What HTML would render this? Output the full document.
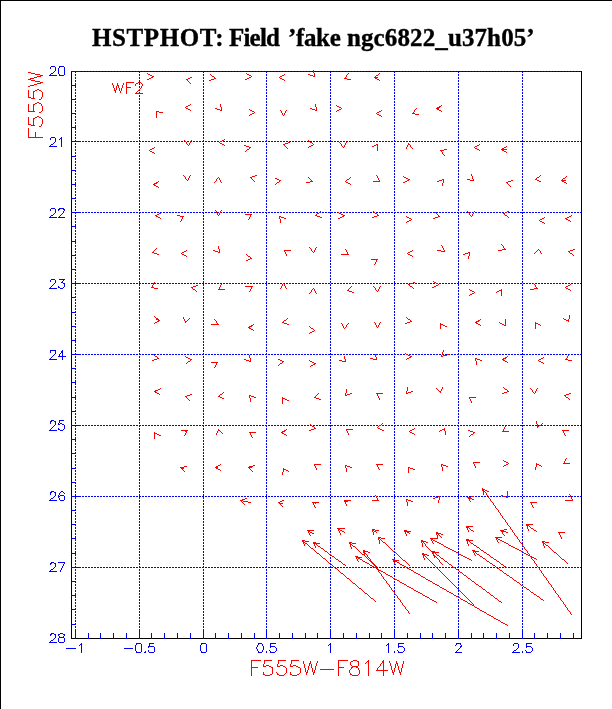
<!DOCTYPE html>
<html><head><meta charset="utf-8"><title>HSTPHOT</title>
<style>
html,body{margin:0;padding:0;background:#fff;}
body{width:612px;height:709px;position:relative;overflow:hidden;font-family:"Liberation Serif",serif;}
.t{position:absolute;top:24px;font-family:"Liberation Serif",serif;font-weight:bold;font-size:25px;line-height:28px;color:#000;white-space:nowrap;-webkit-text-stroke:0.35px #000;will-change:transform;}
svg{position:absolute;left:0;top:0;display:block;}
</style></head><body>
<svg width="612" height="709" viewBox="0 0 612 709" shape-rendering="crispEdges">
<path d="M0 0.5h612M0 1.5h1M0 2.5h1M0 3.5h1M0 4.5h1M0 5.5h1M0 6.5h1M0 7.5h1M0 8.5h1M0 9.5h1M0 10.5h1M0 11.5h1M0 12.5h1M0 13.5h1M0 14.5h1M0 15.5h1M0 16.5h1M0 17.5h1M0 18.5h1M0 19.5h1M0 20.5h1M0 21.5h1M0 22.5h1M0 23.5h1M0 24.5h1M0 25.5h1M0 26.5h1M0 27.5h1M0 28.5h1M0 29.5h1M0 30.5h1M0 31.5h1M0 32.5h1M0 33.5h1M0 34.5h1M0 35.5h1M0 36.5h1M0 37.5h1M0 38.5h1M0 39.5h1M0 40.5h1M0 41.5h1M0 42.5h1M0 43.5h1M0 44.5h1M0 45.5h1M0 46.5h1M0 47.5h1M0 48.5h1M0 49.5h1M0 50.5h1M0 51.5h1M0 52.5h1M0 53.5h1M0 54.5h1M0 55.5h1M0 56.5h1M0 57.5h1M0 58.5h1M0 59.5h1M0 60.5h1M0 61.5h1M0 62.5h1M0 63.5h1M0 64.5h1M0 65.5h1M0 66.5h1M0 67.5h1M0 68.5h1M0 69.5h1M0 70.5h1M0 71.5h1M81 71.5h1M84 71.5h1M87 71.5h1M90 71.5h1M93 71.5h1M96 71.5h1M99 71.5h1M102 71.5h1M105 71.5h1M108 71.5h1M111 71.5h1M114 71.5h1M117 71.5h1M120 71.5h1M123 71.5h1M126 71.5h1M129 71.5h1M132 71.5h1M135 71.5h1M138 71.5h1M141 71.5h1M144 71.5h1M147 71.5h1M150 71.5h1M153 71.5h1M156 71.5h1M159 71.5h1M162 71.5h1M165 71.5h1M168 71.5h1M171 71.5h1M174 71.5h1M177 71.5h1M180 71.5h1M183 71.5h1M186 71.5h1M189 71.5h1M192 71.5h1M195 71.5h1M198 71.5h1M201 71.5h1M204 71.5h1M207 71.5h1M210 71.5h1M213 71.5h1M216 71.5h1M219 71.5h1M222 71.5h1M225 71.5h1M228 71.5h1M231 71.5h1M234 71.5h1M237 71.5h1M240 71.5h1M243 71.5h1M246 71.5h1M249 71.5h1M252 71.5h1M255 71.5h1M258 71.5h1M261 71.5h1M264 71.5h1M267 71.5h1M270 71.5h1M273 71.5h1M276 71.5h1M279 71.5h1M282 71.5h1M285 71.5h1M288 71.5h1M291 71.5h1M294 71.5h1M297 71.5h1M300 71.5h1M303 71.5h1M306 71.5h1M309 71.5h1M312 71.5h1M315 71.5h1M318 71.5h1M321 71.5h1M324 71.5h1M327 71.5h1M330 71.5h1M333 71.5h1M336 71.5h1M339 71.5h1M342 71.5h1M345 71.5h1M348 71.5h1M351 71.5h1M354 71.5h1M357 71.5h1M360 71.5h1M363 71.5h1M366 71.5h1M369 71.5h1M372 71.5h1M375 71.5h1M378 71.5h1M381 71.5h1M384 71.5h1M387 71.5h1M390 71.5h1M393 71.5h1M396 71.5h1M399 71.5h1M402 71.5h1M405 71.5h1M408 71.5h1M411 71.5h1M414 71.5h1M417 71.5h1M420 71.5h1M423 71.5h1M426 71.5h1M429 71.5h1M432 71.5h1M435 71.5h1M438 71.5h1M441 71.5h1M444 71.5h1M447 71.5h1M450 71.5h1M453 71.5h1M456 71.5h1M459 71.5h1M462 71.5h1M465 71.5h1M468 71.5h1M471 71.5h1M474 71.5h1M477 71.5h1M480 71.5h1M483 71.5h1M486 71.5h1M489 71.5h1M492 71.5h1M495 71.5h1M498 71.5h1M501 71.5h1M504 71.5h1M507 71.5h1M510 71.5h1M513 71.5h1M516 71.5h1M519 71.5h1M522 71.5h1M525 71.5h1M528 71.5h1M531 71.5h1M534 71.5h1M537 71.5h1M540 71.5h1M543 71.5h1M546 71.5h1M549 71.5h1M552 71.5h1M555 71.5h1M558 71.5h1M561 71.5h1M564 71.5h1M567 71.5h1M570 71.5h1M573 71.5h1M576 71.5h1M579 71.5h1M581 71.5h1M0 72.5h1M71 72.5h1M581 72.5h1M0 73.5h1M71 73.5h1M581 73.5h1M0 74.5h1M71 74.5h1M581 74.5h1M0 75.5h1M71 75.5h1M581 75.5h1M0 76.5h1M71 76.5h1M581 76.5h1M0 77.5h1M71 77.5h1M581 77.5h1M0 78.5h1M71 78.5h1M581 78.5h1M0 79.5h1M71 79.5h1M581 79.5h1M0 80.5h1M71 80.5h1M581 80.5h1M0 81.5h1M71 81.5h1M581 81.5h1M0 82.5h1M71 82.5h1M581 82.5h1M0 83.5h1M71 83.5h1M581 83.5h1M0 84.5h1M71 84.5h1M581 84.5h1M0 85.5h1M581 85.5h1M0 86.5h1M71 86.5h1M581 86.5h1M0 87.5h1M71 87.5h1M581 87.5h1M0 88.5h1M71 88.5h1M581 88.5h1M0 89.5h1M71 89.5h1M581 89.5h1M0 90.5h1M71 90.5h1M581 90.5h1M0 91.5h1M71 91.5h1M581 91.5h1M0 92.5h1M71 92.5h1M581 92.5h1M0 93.5h1M71 93.5h1M581 93.5h1M0 94.5h1M71 94.5h1M581 94.5h1M0 95.5h1M71 95.5h1M581 95.5h1M0 96.5h1M71 96.5h1M581 96.5h1M0 97.5h1M71 97.5h1M581 97.5h1M0 98.5h1M71 98.5h1M581 98.5h1M0 99.5h1M581 99.5h1M0 100.5h1M71 100.5h1M581 100.5h1M0 101.5h1M71 101.5h1M581 101.5h1M0 102.5h1M71 102.5h1M581 102.5h1M0 103.5h1M71 103.5h1M581 103.5h1M0 104.5h1M71 104.5h1M581 104.5h1M0 105.5h1M71 105.5h1M581 105.5h1M0 106.5h1M71 106.5h1M581 106.5h1M0 107.5h1M71 107.5h1M581 107.5h1M0 108.5h1M71 108.5h1M581 108.5h1M0 109.5h1M71 109.5h1M581 109.5h1M0 110.5h1M71 110.5h1M581 110.5h1M0 111.5h1M71 111.5h1M581 111.5h1M0 112.5h1M71 112.5h1M581 112.5h1M0 113.5h1M581 113.5h1M0 114.5h1M71 114.5h1M581 114.5h1M0 115.5h1M71 115.5h1M581 115.5h1M0 116.5h1M71 116.5h1M581 116.5h1M0 117.5h1M71 117.5h1M581 117.5h1M0 118.5h1M71 118.5h1M581 118.5h1M0 119.5h1M71 119.5h1M581 119.5h1M0 120.5h1M71 120.5h1M581 120.5h1M0 121.5h1M71 121.5h1M581 121.5h1M0 122.5h1M71 122.5h1M581 122.5h1M0 123.5h1M71 123.5h1M581 123.5h1M0 124.5h1M71 124.5h1M581 124.5h1M0 125.5h1M71 125.5h1M581 125.5h1M0 126.5h1M71 126.5h1M581 126.5h1M0 127.5h1M581 127.5h1M0 128.5h1M71 128.5h1M581 128.5h1M0 129.5h1M71 129.5h1M581 129.5h1M0 130.5h1M71 130.5h1M581 130.5h1M0 131.5h1M71 131.5h1M581 131.5h1M0 132.5h1M71 132.5h1M581 132.5h1M0 133.5h1M71 133.5h1M581 133.5h1M0 134.5h1M71 134.5h1M581 134.5h1M0 135.5h1M71 135.5h1M581 135.5h1M0 136.5h1M71 136.5h1M581 136.5h1M0 137.5h1M71 137.5h1M581 137.5h1M0 138.5h1M71 138.5h1M581 138.5h1M0 139.5h1M71 139.5h1M581 139.5h1M0 140.5h1M71 140.5h1M581 140.5h1M0 141.5h1M581 141.5h1M0 142.5h1M71 142.5h1M581 142.5h1M0 143.5h1M71 143.5h1M581 143.5h1M0 144.5h1M71 144.5h1M581 144.5h1M0 145.5h1M71 145.5h1M581 145.5h1M0 146.5h1M71 146.5h1M581 146.5h1M0 147.5h1M71 147.5h1M581 147.5h1M0 148.5h1M71 148.5h1M581 148.5h1M0 149.5h1M71 149.5h1M581 149.5h1M0 150.5h1M71 150.5h1M581 150.5h1M0 151.5h1M71 151.5h1M581 151.5h1M0 152.5h1M71 152.5h1M581 152.5h1M0 153.5h1M71 153.5h1M581 153.5h1M0 154.5h1M71 154.5h1M581 154.5h1M0 155.5h1M71 155.5h1M581 155.5h1M0 156.5h1M581 156.5h1M0 157.5h1M71 157.5h1M581 157.5h1M0 158.5h1M71 158.5h1M581 158.5h1M0 159.5h1M71 159.5h1M581 159.5h1M0 160.5h1M71 160.5h1M581 160.5h1M0 161.5h1M71 161.5h1M581 161.5h1M0 162.5h1M71 162.5h1M581 162.5h1M0 163.5h1M71 163.5h1M581 163.5h1M0 164.5h1M71 164.5h1M581 164.5h1M0 165.5h1M71 165.5h1M581 165.5h1M0 166.5h1M71 166.5h1M581 166.5h1M0 167.5h1M71 167.5h1M581 167.5h1M0 168.5h1M71 168.5h1M581 168.5h1M0 169.5h1M71 169.5h1M581 169.5h1M0 170.5h1M581 170.5h1M0 171.5h1M71 171.5h1M581 171.5h1M0 172.5h1M71 172.5h1M581 172.5h1M0 173.5h1M71 173.5h1M581 173.5h1M0 174.5h1M71 174.5h1M581 174.5h1M0 175.5h1M71 175.5h1M581 175.5h1M0 176.5h1M71 176.5h1M581 176.5h1M0 177.5h1M71 177.5h1M581 177.5h1M0 178.5h1M71 178.5h1M581 178.5h1M0 179.5h1M71 179.5h1M581 179.5h1M0 180.5h1M71 180.5h1M581 180.5h1M0 181.5h1M71 181.5h1M581 181.5h1M0 182.5h1M71 182.5h1M581 182.5h1M0 183.5h1M71 183.5h1M581 183.5h1M0 184.5h1M581 184.5h1M0 185.5h1M71 185.5h1M581 185.5h1M0 186.5h1M71 186.5h1M581 186.5h1M0 187.5h1M71 187.5h1M581 187.5h1M0 188.5h1M71 188.5h1M581 188.5h1M0 189.5h1M71 189.5h1M581 189.5h1M0 190.5h1M71 190.5h1M581 190.5h1M0 191.5h1M71 191.5h1M581 191.5h1M0 192.5h1M71 192.5h1M581 192.5h1M0 193.5h1M71 193.5h1M581 193.5h1M0 194.5h1M71 194.5h1M581 194.5h1M0 195.5h1M71 195.5h1M581 195.5h1M0 196.5h1M71 196.5h1M581 196.5h1M0 197.5h1M71 197.5h1M581 197.5h1M0 198.5h1M581 198.5h1M0 199.5h1M71 199.5h1M581 199.5h1M0 200.5h1M71 200.5h1M581 200.5h1M0 201.5h1M71 201.5h1M581 201.5h1M0 202.5h1M71 202.5h1M581 202.5h1M0 203.5h1M71 203.5h1M581 203.5h1M0 204.5h1M71 204.5h1M581 204.5h1M0 205.5h1M71 205.5h1M581 205.5h1M0 206.5h1M71 206.5h1M581 206.5h1M0 207.5h1M71 207.5h1M581 207.5h1M0 208.5h1M71 208.5h1M581 208.5h1M0 209.5h1M71 209.5h1M581 209.5h1M0 210.5h1M71 210.5h1M581 210.5h1M0 211.5h1M71 211.5h1M581 211.5h1M0 212.5h1M581 212.5h1M0 213.5h1M71 213.5h1M581 213.5h1M0 214.5h1M71 214.5h1M581 214.5h1M0 215.5h1M71 215.5h1M581 215.5h1M0 216.5h1M71 216.5h1M581 216.5h1M0 217.5h1M71 217.5h1M581 217.5h1M0 218.5h1M71 218.5h1M581 218.5h1M0 219.5h1M71 219.5h1M581 219.5h1M0 220.5h1M71 220.5h1M581 220.5h1M0 221.5h1M71 221.5h1M581 221.5h1M0 222.5h1M71 222.5h1M581 222.5h1M0 223.5h1M71 223.5h1M581 223.5h1M0 224.5h1M71 224.5h1M581 224.5h1M0 225.5h1M71 225.5h1M581 225.5h1M0 226.5h1M581 226.5h1M0 227.5h1M71 227.5h1M581 227.5h1M0 228.5h1M71 228.5h1M581 228.5h1M0 229.5h1M71 229.5h1M581 229.5h1M0 230.5h1M71 230.5h1M581 230.5h1M0 231.5h1M71 231.5h1M581 231.5h1M0 232.5h1M71 232.5h1M581 232.5h1M0 233.5h1M71 233.5h1M581 233.5h1M0 234.5h1M71 234.5h1M581 234.5h1M0 235.5h1M71 235.5h1M581 235.5h1M0 236.5h1M71 236.5h1M581 236.5h1M0 237.5h1M71 237.5h1M581 237.5h1M0 238.5h1M71 238.5h1M581 238.5h1M0 239.5h1M71 239.5h1M581 239.5h1M0 240.5h1M71 240.5h1M581 240.5h1M0 241.5h1M581 241.5h1M0 242.5h1M71 242.5h1M581 242.5h1M0 243.5h1M71 243.5h1M581 243.5h1M0 244.5h1M71 244.5h1M581 244.5h1M0 245.5h1M71 245.5h1M581 245.5h1M0 246.5h1M71 246.5h1M581 246.5h1M0 247.5h1M71 247.5h1M581 247.5h1M0 248.5h1M71 248.5h1M581 248.5h1M0 249.5h1M71 249.5h1M581 249.5h1M0 250.5h1M71 250.5h1M581 250.5h1M0 251.5h1M71 251.5h1M581 251.5h1M0 252.5h1M71 252.5h1M581 252.5h1M0 253.5h1M71 253.5h1M581 253.5h1M0 254.5h1M71 254.5h1M581 254.5h1M0 255.5h1M581 255.5h1M0 256.5h1M71 256.5h1M581 256.5h1M0 257.5h1M71 257.5h1M581 257.5h1M0 258.5h1M71 258.5h1M581 258.5h1M0 259.5h1M71 259.5h1M581 259.5h1M0 260.5h1M71 260.5h1M581 260.5h1M0 261.5h1M71 261.5h1M581 261.5h1M0 262.5h1M71 262.5h1M581 262.5h1M0 263.5h1M71 263.5h1M581 263.5h1M0 264.5h1M71 264.5h1M581 264.5h1M0 265.5h1M71 265.5h1M581 265.5h1M0 266.5h1M71 266.5h1M581 266.5h1M0 267.5h1M71 267.5h1M581 267.5h1M0 268.5h1M71 268.5h1M581 268.5h1M0 269.5h1M581 269.5h1M0 270.5h1M71 270.5h1M581 270.5h1M0 271.5h1M71 271.5h1M581 271.5h1M0 272.5h1M71 272.5h1M581 272.5h1M0 273.5h1M71 273.5h1M581 273.5h1M0 274.5h1M71 274.5h1M581 274.5h1M0 275.5h1M71 275.5h1M581 275.5h1M0 276.5h1M71 276.5h1M581 276.5h1M0 277.5h1M71 277.5h1M581 277.5h1M0 278.5h1M71 278.5h1M581 278.5h1M0 279.5h1M71 279.5h1M581 279.5h1M0 280.5h1M71 280.5h1M581 280.5h1M0 281.5h1M71 281.5h1M581 281.5h1M0 282.5h1M71 282.5h1M581 282.5h1M0 283.5h1M581 283.5h1M0 284.5h1M71 284.5h1M581 284.5h1M0 285.5h1M71 285.5h1M581 285.5h1M0 286.5h1M71 286.5h1M581 286.5h1M0 287.5h1M71 287.5h1M581 287.5h1M0 288.5h1M71 288.5h1M581 288.5h1M0 289.5h1M71 289.5h1M581 289.5h1M0 290.5h1M71 290.5h1M581 290.5h1M0 291.5h1M71 291.5h1M581 291.5h1M0 292.5h1M71 292.5h1M581 292.5h1M0 293.5h1M71 293.5h1M581 293.5h1M0 294.5h1M71 294.5h1M581 294.5h1M0 295.5h1M71 295.5h1M581 295.5h1M0 296.5h1M71 296.5h1M581 296.5h1M0 297.5h1M581 297.5h1M0 298.5h1M71 298.5h1M581 298.5h1M0 299.5h1M71 299.5h1M581 299.5h1M0 300.5h1M71 300.5h1M581 300.5h1M0 301.5h1M71 301.5h1M581 301.5h1M0 302.5h1M71 302.5h1M581 302.5h1M0 303.5h1M71 303.5h1M581 303.5h1M0 304.5h1M71 304.5h1M581 304.5h1M0 305.5h1M71 305.5h1M581 305.5h1M0 306.5h1M71 306.5h1M581 306.5h1M0 307.5h1M71 307.5h1M581 307.5h1M0 308.5h1M71 308.5h1M581 308.5h1M0 309.5h1M71 309.5h1M581 309.5h1M0 310.5h1M71 310.5h1M581 310.5h1M0 311.5h1M71 311.5h1M581 311.5h1M0 312.5h1M581 312.5h1M0 313.5h1M71 313.5h1M581 313.5h1M0 314.5h1M71 314.5h1M581 314.5h1M0 315.5h1M71 315.5h1M581 315.5h1M0 316.5h1M71 316.5h1M581 316.5h1M0 317.5h1M71 317.5h1M581 317.5h1M0 318.5h1M71 318.5h1M581 318.5h1M0 319.5h1M71 319.5h1M581 319.5h1M0 320.5h1M71 320.5h1M581 320.5h1M0 321.5h1M71 321.5h1M581 321.5h1M0 322.5h1M71 322.5h1M581 322.5h1M0 323.5h1M71 323.5h1M581 323.5h1M0 324.5h1M71 324.5h1M581 324.5h1M0 325.5h1M71 325.5h1M581 325.5h1M0 326.5h1M581 326.5h1M0 327.5h1M71 327.5h1M581 327.5h1M0 328.5h1M71 328.5h1M581 328.5h1M0 329.5h1M71 329.5h1M581 329.5h1M0 330.5h1M71 330.5h1M581 330.5h1M0 331.5h1M71 331.5h1M581 331.5h1M0 332.5h1M71 332.5h1M581 332.5h1M0 333.5h1M71 333.5h1M581 333.5h1M0 334.5h1M71 334.5h1M581 334.5h1M0 335.5h1M71 335.5h1M581 335.5h1M0 336.5h1M71 336.5h1M581 336.5h1M0 337.5h1M71 337.5h1M581 337.5h1M0 338.5h1M71 338.5h1M581 338.5h1M0 339.5h1M71 339.5h1M581 339.5h1M0 340.5h1M581 340.5h1M0 341.5h1M71 341.5h1M581 341.5h1M0 342.5h1M71 342.5h1M581 342.5h1M0 343.5h1M71 343.5h1M581 343.5h1M0 344.5h1M71 344.5h1M581 344.5h1M0 345.5h1M71 345.5h1M581 345.5h1M0 346.5h1M71 346.5h1M581 346.5h1M0 347.5h1M71 347.5h1M581 347.5h1M0 348.5h1M71 348.5h1M581 348.5h1M0 349.5h1M71 349.5h1M581 349.5h1M0 350.5h1M71 350.5h1M581 350.5h1M0 351.5h1M71 351.5h1M581 351.5h1M0 352.5h1M71 352.5h1M581 352.5h1M0 353.5h1M71 353.5h1M581 353.5h1M0 354.5h1M581 354.5h1M0 355.5h1M71 355.5h1M581 355.5h1M0 356.5h1M71 356.5h1M581 356.5h1M0 357.5h1M71 357.5h1M581 357.5h1M0 358.5h1M71 358.5h1M581 358.5h1M0 359.5h1M71 359.5h1M581 359.5h1M0 360.5h1M71 360.5h1M581 360.5h1M0 361.5h1M71 361.5h1M581 361.5h1M0 362.5h1M71 362.5h1M581 362.5h1M0 363.5h1M71 363.5h1M581 363.5h1M0 364.5h1M71 364.5h1M581 364.5h1M0 365.5h1M71 365.5h1M581 365.5h1M0 366.5h1M71 366.5h1M581 366.5h1M0 367.5h1M71 367.5h1M581 367.5h1M0 368.5h1M581 368.5h1M0 369.5h1M71 369.5h1M581 369.5h1M0 370.5h1M71 370.5h1M581 370.5h1M0 371.5h1M71 371.5h1M581 371.5h1M0 372.5h1M71 372.5h1M581 372.5h1M0 373.5h1M71 373.5h1M581 373.5h1M0 374.5h1M71 374.5h1M581 374.5h1M0 375.5h1M71 375.5h1M581 375.5h1M0 376.5h1M71 376.5h1M581 376.5h1M0 377.5h1M71 377.5h1M581 377.5h1M0 378.5h1M71 378.5h1M581 378.5h1M0 379.5h1M71 379.5h1M581 379.5h1M0 380.5h1M71 380.5h1M581 380.5h1M0 381.5h1M71 381.5h1M581 381.5h1M0 382.5h1M581 382.5h1M0 383.5h1M71 383.5h1M581 383.5h1M0 384.5h1M71 384.5h1M581 384.5h1M0 385.5h1M71 385.5h1M581 385.5h1M0 386.5h1M71 386.5h1M581 386.5h1M0 387.5h1M71 387.5h1M581 387.5h1M0 388.5h1M71 388.5h1M581 388.5h1M0 389.5h1M71 389.5h1M581 389.5h1M0 390.5h1M71 390.5h1M581 390.5h1M0 391.5h1M71 391.5h1M581 391.5h1M0 392.5h1M71 392.5h1M581 392.5h1M0 393.5h1M71 393.5h1M581 393.5h1M0 394.5h1M71 394.5h1M581 394.5h1M0 395.5h1M71 395.5h1M581 395.5h1M0 396.5h1M71 396.5h1M581 396.5h1M0 397.5h1M581 397.5h1M0 398.5h1M71 398.5h1M581 398.5h1M0 399.5h1M71 399.5h1M581 399.5h1M0 400.5h1M71 400.5h1M581 400.5h1M0 401.5h1M71 401.5h1M581 401.5h1M0 402.5h1M71 402.5h1M581 402.5h1M0 403.5h1M71 403.5h1M581 403.5h1M0 404.5h1M71 404.5h1M581 404.5h1M0 405.5h1M71 405.5h1M581 405.5h1M0 406.5h1M71 406.5h1M581 406.5h1M0 407.5h1M71 407.5h1M581 407.5h1M0 408.5h1M71 408.5h1M581 408.5h1M0 409.5h1M71 409.5h1M581 409.5h1M0 410.5h1M71 410.5h1M581 410.5h1M0 411.5h1M581 411.5h1M0 412.5h1M71 412.5h1M581 412.5h1M0 413.5h1M71 413.5h1M581 413.5h1M0 414.5h1M71 414.5h1M581 414.5h1M0 415.5h1M71 415.5h1M581 415.5h1M0 416.5h1M71 416.5h1M581 416.5h1M0 417.5h1M71 417.5h1M581 417.5h1M0 418.5h1M71 418.5h1M581 418.5h1M0 419.5h1M71 419.5h1M581 419.5h1M0 420.5h1M71 420.5h1M581 420.5h1M0 421.5h1M71 421.5h1M581 421.5h1M0 422.5h1M71 422.5h1M581 422.5h1M0 423.5h1M71 423.5h1M581 423.5h1M0 424.5h1M71 424.5h1M581 424.5h1M0 425.5h1M581 425.5h1M0 426.5h1M71 426.5h1M581 426.5h1M0 427.5h1M71 427.5h1M581 427.5h1M0 428.5h1M71 428.5h1M581 428.5h1M0 429.5h1M71 429.5h1M581 429.5h1M0 430.5h1M71 430.5h1M581 430.5h1M0 431.5h1M71 431.5h1M581 431.5h1M0 432.5h1M71 432.5h1M581 432.5h1M0 433.5h1M71 433.5h1M581 433.5h1M0 434.5h1M71 434.5h1M581 434.5h1M0 435.5h1M71 435.5h1M581 435.5h1M0 436.5h1M71 436.5h1M581 436.5h1M0 437.5h1M71 437.5h1M581 437.5h1M0 438.5h1M71 438.5h1M581 438.5h1M0 439.5h1M581 439.5h1M0 440.5h1M71 440.5h1M581 440.5h1M0 441.5h1M71 441.5h1M581 441.5h1M0 442.5h1M71 442.5h1M581 442.5h1M0 443.5h1M71 443.5h1M581 443.5h1M0 444.5h1M71 444.5h1M581 444.5h1M0 445.5h1M71 445.5h1M581 445.5h1M0 446.5h1M71 446.5h1M581 446.5h1M0 447.5h1M71 447.5h1M581 447.5h1M0 448.5h1M71 448.5h1M581 448.5h1M0 449.5h1M71 449.5h1M581 449.5h1M0 450.5h1M71 450.5h1M581 450.5h1M0 451.5h1M71 451.5h1M581 451.5h1M0 452.5h1M71 452.5h1M581 452.5h1M0 453.5h1M581 453.5h1M0 454.5h1M71 454.5h1M581 454.5h1M0 455.5h1M71 455.5h1M581 455.5h1M0 456.5h1M71 456.5h1M581 456.5h1M0 457.5h1M71 457.5h1M581 457.5h1M0 458.5h1M71 458.5h1M581 458.5h1M0 459.5h1M71 459.5h1M581 459.5h1M0 460.5h1M71 460.5h1M581 460.5h1M0 461.5h1M71 461.5h1M581 461.5h1M0 462.5h1M71 462.5h1M581 462.5h1M0 463.5h1M71 463.5h1M581 463.5h1M0 464.5h1M71 464.5h1M581 464.5h1M0 465.5h1M71 465.5h1M581 465.5h1M0 466.5h1M71 466.5h1M581 466.5h1M0 467.5h1M71 467.5h1M581 467.5h1M0 468.5h1M581 468.5h1M0 469.5h1M71 469.5h1M581 469.5h1M0 470.5h1M71 470.5h1M581 470.5h1M0 471.5h1M71 471.5h1M581 471.5h1M0 472.5h1M71 472.5h1M581 472.5h1M0 473.5h1M71 473.5h1M581 473.5h1M0 474.5h1M71 474.5h1M581 474.5h1M0 475.5h1M71 475.5h1M581 475.5h1M0 476.5h1M71 476.5h1M581 476.5h1M0 477.5h1M71 477.5h1M581 477.5h1M0 478.5h1M71 478.5h1M581 478.5h1M0 479.5h1M71 479.5h1M581 479.5h1M0 480.5h1M71 480.5h1M581 480.5h1M0 481.5h1M71 481.5h1M581 481.5h1M0 482.5h1M581 482.5h1M0 483.5h1M71 483.5h1M581 483.5h1M0 484.5h1M71 484.5h1M581 484.5h1M0 485.5h1M71 485.5h1M581 485.5h1M0 486.5h1M71 486.5h1M581 486.5h1M0 487.5h1M71 487.5h1M581 487.5h1M0 488.5h1M71 488.5h1M581 488.5h1M0 489.5h1M71 489.5h1M581 489.5h1M0 490.5h1M71 490.5h1M581 490.5h1M0 491.5h1M71 491.5h1M581 491.5h1M0 492.5h1M71 492.5h1M581 492.5h1M0 493.5h1M71 493.5h1M581 493.5h1M0 494.5h1M71 494.5h1M581 494.5h1M0 495.5h1M71 495.5h1M581 495.5h1M0 496.5h1M581 496.5h1M0 497.5h1M71 497.5h1M581 497.5h1M0 498.5h1M71 498.5h1M581 498.5h1M0 499.5h1M71 499.5h1M581 499.5h1M0 500.5h1M71 500.5h1M581 500.5h1M0 501.5h1M71 501.5h1M581 501.5h1M0 502.5h1M71 502.5h1M581 502.5h1M0 503.5h1M71 503.5h1M581 503.5h1M0 504.5h1M71 504.5h1M581 504.5h1M0 505.5h1M71 505.5h1M581 505.5h1M0 506.5h1M71 506.5h1M581 506.5h1M0 507.5h1M71 507.5h1M581 507.5h1M0 508.5h1M71 508.5h1M581 508.5h1M0 509.5h1M71 509.5h1M581 509.5h1M0 510.5h1M581 510.5h1M0 511.5h1M71 511.5h1M581 511.5h1M0 512.5h1M71 512.5h1M581 512.5h1M0 513.5h1M71 513.5h1M581 513.5h1M0 514.5h1M71 514.5h1M581 514.5h1M0 515.5h1M71 515.5h1M581 515.5h1M0 516.5h1M71 516.5h1M581 516.5h1M0 517.5h1M71 517.5h1M581 517.5h1M0 518.5h1M71 518.5h1M581 518.5h1M0 519.5h1M71 519.5h1M581 519.5h1M0 520.5h1M71 520.5h1M581 520.5h1M0 521.5h1M71 521.5h1M581 521.5h1M0 522.5h1M71 522.5h1M581 522.5h1M0 523.5h1M71 523.5h1M581 523.5h1M0 524.5h1M581 524.5h1M0 525.5h1M71 525.5h1M581 525.5h1M0 526.5h1M71 526.5h1M581 526.5h1M0 527.5h1M71 527.5h1M581 527.5h1M0 528.5h1M71 528.5h1M581 528.5h1M0 529.5h1M71 529.5h1M581 529.5h1M0 530.5h1M71 530.5h1M581 530.5h1M0 531.5h1M71 531.5h1M581 531.5h1M0 532.5h1M71 532.5h1M581 532.5h1M0 533.5h1M71 533.5h1M581 533.5h1M0 534.5h1M71 534.5h1M581 534.5h1M0 535.5h1M71 535.5h1M581 535.5h1M0 536.5h1M71 536.5h1M581 536.5h1M0 537.5h1M71 537.5h1M581 537.5h1M0 538.5h1M581 538.5h1M0 539.5h1M71 539.5h1M581 539.5h1M0 540.5h1M71 540.5h1M581 540.5h1M0 541.5h1M71 541.5h1M581 541.5h1M0 542.5h1M71 542.5h1M581 542.5h1M0 543.5h1M71 543.5h1M581 543.5h1M0 544.5h1M71 544.5h1M581 544.5h1M0 545.5h1M71 545.5h1M581 545.5h1M0 546.5h1M71 546.5h1M581 546.5h1M0 547.5h1M71 547.5h1M581 547.5h1M0 548.5h1M71 548.5h1M581 548.5h1M0 549.5h1M71 549.5h1M581 549.5h1M0 550.5h1M71 550.5h1M581 550.5h1M0 551.5h1M71 551.5h1M581 551.5h1M0 552.5h1M71 552.5h1M581 552.5h1M0 553.5h1M581 553.5h1M0 554.5h1M71 554.5h1M581 554.5h1M0 555.5h1M71 555.5h1M581 555.5h1M0 556.5h1M71 556.5h1M581 556.5h1M0 557.5h1M71 557.5h1M581 557.5h1M0 558.5h1M71 558.5h1M581 558.5h1M0 559.5h1M71 559.5h1M581 559.5h1M0 560.5h1M71 560.5h1M581 560.5h1M0 561.5h1M71 561.5h1M581 561.5h1M0 562.5h1M71 562.5h1M581 562.5h1M0 563.5h1M71 563.5h1M581 563.5h1M0 564.5h1M71 564.5h1M581 564.5h1M0 565.5h1M71 565.5h1M581 565.5h1M0 566.5h1M71 566.5h1M581 566.5h1M0 567.5h1M581 567.5h1M0 568.5h1M71 568.5h1M581 568.5h1M0 569.5h1M71 569.5h1M581 569.5h1M0 570.5h1M71 570.5h1M581 570.5h1M0 571.5h1M71 571.5h1M581 571.5h1M0 572.5h1M71 572.5h1M581 572.5h1M0 573.5h1M71 573.5h1M581 573.5h1M0 574.5h1M71 574.5h1M581 574.5h1M0 575.5h1M71 575.5h1M581 575.5h1M0 576.5h1M71 576.5h1M581 576.5h1M0 577.5h1M71 577.5h1M581 577.5h1M0 578.5h1M71 578.5h1M581 578.5h1M0 579.5h1M71 579.5h1M581 579.5h1M0 580.5h1M71 580.5h1M581 580.5h1M0 581.5h1M581 581.5h1M0 582.5h1M71 582.5h1M581 582.5h1M0 583.5h1M71 583.5h1M581 583.5h1M0 584.5h1M71 584.5h1M581 584.5h1M0 585.5h1M71 585.5h1M581 585.5h1M0 586.5h1M71 586.5h1M581 586.5h1M0 587.5h1M71 587.5h1M581 587.5h1M0 588.5h1M71 588.5h1M581 588.5h1M0 589.5h1M71 589.5h1M581 589.5h1M0 590.5h1M71 590.5h1M581 590.5h1M0 591.5h1M71 591.5h1M581 591.5h1M0 592.5h1M71 592.5h1M581 592.5h1M0 593.5h1M71 593.5h1M581 593.5h1M0 594.5h1M71 594.5h1M581 594.5h1M0 595.5h1M581 595.5h1M0 596.5h1M71 596.5h1M581 596.5h1M0 597.5h1M71 597.5h1M581 597.5h1M0 598.5h1M71 598.5h1M581 598.5h1M0 599.5h1M71 599.5h1M581 599.5h1M0 600.5h1M71 600.5h1M581 600.5h1M0 601.5h1M71 601.5h1M581 601.5h1M0 602.5h1M71 602.5h1M581 602.5h1M0 603.5h1M71 603.5h1M581 603.5h1M0 604.5h1M71 604.5h1M581 604.5h1M0 605.5h1M71 605.5h1M581 605.5h1M0 606.5h1M71 606.5h1M581 606.5h1M0 607.5h1M71 607.5h1M581 607.5h1M0 608.5h1M71 608.5h1M581 608.5h1M0 609.5h1M581 609.5h1M0 610.5h1M71 610.5h1M581 610.5h1M0 611.5h1M71 611.5h1M581 611.5h1M0 612.5h1M71 612.5h1M581 612.5h1M0 613.5h1M71 613.5h1M581 613.5h1M0 614.5h1M71 614.5h1M581 614.5h1M0 615.5h1M71 615.5h1M581 615.5h1M0 616.5h1M71 616.5h1M581 616.5h1M0 617.5h1M71 617.5h1M581 617.5h1M0 618.5h1M71 618.5h1M581 618.5h1M0 619.5h1M71 619.5h1M581 619.5h1M0 620.5h1M71 620.5h1M581 620.5h1M0 621.5h1M71 621.5h1M581 621.5h1M0 622.5h1M71 622.5h1M581 622.5h1M0 623.5h1M71 623.5h1M581 623.5h1M0 624.5h1M581 624.5h1M0 625.5h1M71 625.5h1M581 625.5h1M0 626.5h1M71 626.5h1M581 626.5h1M0 627.5h1M71 627.5h1M581 627.5h1M0 628.5h1M71 628.5h1M581 628.5h1M0 629.5h1M71 629.5h1M581 629.5h1M0 630.5h1M71 630.5h1M581 630.5h1M0 631.5h1M71 631.5h1M581 631.5h1M0 632.5h1M71 632.5h1M581 632.5h1M0 633.5h1M71 633.5h1M581 633.5h1M0 634.5h1M71 634.5h1M581 634.5h1M0 635.5h1M71 635.5h1M581 635.5h1M0 636.5h1M71 636.5h1M581 636.5h1M0 637.5h1M71 637.5h1M581 637.5h1M0 638.5h1M71 638.5h4M76 638.5h12M89 638.5h11M101 638.5h12M114 638.5h12M127 638.5h12M140 638.5h11M152 638.5h12M165 638.5h12M178 638.5h12M191 638.5h12M204 638.5h11M216 638.5h12M229 638.5h12M242 638.5h12M255 638.5h11M267 638.5h12M280 638.5h12M293 638.5h12M306 638.5h11M318 638.5h12M331 638.5h12M344 638.5h12M357 638.5h12M370 638.5h11M382 638.5h12M395 638.5h12M408 638.5h12M421 638.5h11M433 638.5h12M446 638.5h12M459 638.5h12M472 638.5h11M484 638.5h12M497 638.5h12M510 638.5h12M523 638.5h11M535 638.5h12M548 638.5h12M561 638.5h12M574 638.5h8M0 639.5h1M0 640.5h1M0 641.5h1M0 642.5h1M0 643.5h1M0 644.5h1M0 645.5h1M0 646.5h1M0 647.5h1M0 648.5h1M0 649.5h1M0 650.5h1M0 651.5h1M0 652.5h1M0 653.5h1M0 654.5h1M0 655.5h1M0 656.5h1M0 657.5h1M0 658.5h1M0 659.5h1M0 660.5h1M0 661.5h1M0 662.5h1M0 663.5h1M0 664.5h1M0 665.5h1M0 666.5h1M0 667.5h1M0 668.5h1M0 669.5h1M0 670.5h1M0 671.5h1M0 672.5h1M0 673.5h1M0 674.5h1M0 675.5h1M0 676.5h1M0 677.5h1M0 678.5h1M0 679.5h1M0 680.5h1M0 681.5h1M0 682.5h1M0 683.5h1M0 684.5h1M0 685.5h1M0 686.5h1M0 687.5h1M0 688.5h1M0 689.5h1M0 690.5h1M0 691.5h1M0 692.5h1M0 693.5h1M0 694.5h1M0 695.5h1M0 696.5h1M0 697.5h1M0 698.5h1M0 699.5h1M0 700.5h1M0 701.5h1M0 702.5h1M0 703.5h1M0 704.5h1M0 705.5h1M0 706.5h1M0 707.5h1M0 708.5h1" stroke="#000000" stroke-width="1" fill="none"/>
<path d="M51 66.5h4M59 66.5h5M50 67.5h1M55 67.5h1M59 67.5h1M64 67.5h1M50 68.5h1M55 68.5h1M58 68.5h1M64 68.5h1M55 69.5h1M58 69.5h1M64 69.5h1M55 70.5h1M58 70.5h1M64 70.5h1M54 71.5h1M58 71.5h1M64 71.5h1M71 71.5h10M82 71.5h2M85 71.5h2M88 71.5h2M91 71.5h2M94 71.5h2M97 71.5h2M100 71.5h2M103 71.5h2M106 71.5h2M109 71.5h2M112 71.5h2M115 71.5h2M118 71.5h2M121 71.5h2M124 71.5h2M127 71.5h2M130 71.5h2M133 71.5h2M136 71.5h2M139 71.5h2M142 71.5h2M145 71.5h2M148 71.5h2M151 71.5h2M154 71.5h2M157 71.5h2M160 71.5h2M163 71.5h2M166 71.5h2M169 71.5h2M172 71.5h2M175 71.5h2M178 71.5h2M181 71.5h2M184 71.5h2M187 71.5h2M190 71.5h2M193 71.5h2M196 71.5h2M199 71.5h2M202 71.5h2M205 71.5h2M208 71.5h2M211 71.5h2M214 71.5h2M217 71.5h2M220 71.5h2M223 71.5h2M226 71.5h2M229 71.5h2M232 71.5h2M235 71.5h2M238 71.5h2M241 71.5h2M244 71.5h2M247 71.5h2M250 71.5h2M253 71.5h2M256 71.5h2M259 71.5h2M262 71.5h2M265 71.5h2M268 71.5h2M271 71.5h2M274 71.5h2M277 71.5h2M280 71.5h2M283 71.5h2M286 71.5h2M289 71.5h2M292 71.5h2M295 71.5h2M298 71.5h2M301 71.5h2M304 71.5h2M307 71.5h2M310 71.5h2M314 71.5h1M316 71.5h2M319 71.5h2M322 71.5h2M325 71.5h2M328 71.5h2M331 71.5h2M334 71.5h2M337 71.5h2M340 71.5h2M343 71.5h2M346 71.5h2M349 71.5h2M352 71.5h2M355 71.5h2M358 71.5h2M361 71.5h2M364 71.5h2M367 71.5h2M370 71.5h2M373 71.5h2M376 71.5h2M379 71.5h2M382 71.5h2M385 71.5h2M388 71.5h2M391 71.5h2M394 71.5h2M397 71.5h2M400 71.5h2M403 71.5h2M406 71.5h2M409 71.5h2M412 71.5h2M415 71.5h2M418 71.5h2M421 71.5h2M424 71.5h2M427 71.5h2M430 71.5h2M433 71.5h2M436 71.5h2M439 71.5h2M442 71.5h2M445 71.5h2M448 71.5h2M451 71.5h2M454 71.5h2M457 71.5h2M460 71.5h2M463 71.5h2M466 71.5h2M469 71.5h2M472 71.5h2M475 71.5h2M478 71.5h2M481 71.5h2M484 71.5h2M487 71.5h2M490 71.5h2M493 71.5h2M496 71.5h2M499 71.5h2M502 71.5h2M505 71.5h2M508 71.5h2M511 71.5h2M514 71.5h2M517 71.5h2M520 71.5h2M523 71.5h2M526 71.5h2M529 71.5h2M532 71.5h2M535 71.5h2M538 71.5h2M541 71.5h2M544 71.5h2M547 71.5h2M550 71.5h2M553 71.5h2M556 71.5h2M559 71.5h2M562 71.5h2M565 71.5h2M568 71.5h2M571 71.5h2M574 71.5h2M577 71.5h2M580 71.5h1M53 72.5h1M58 72.5h1M64 72.5h1M75 72.5h1M139 72.5h1M203 72.5h1M266 72.5h1M330 72.5h1M394 72.5h1M458 72.5h1M522 72.5h1M51 73.5h2M58 73.5h1M64 73.5h1M50 74.5h1M59 74.5h1M64 74.5h1M75 74.5h1M139 74.5h1M203 74.5h1M266 74.5h1M330 74.5h1M394 74.5h1M458 74.5h1M522 74.5h1M49 75.5h8M59 75.5h5M75 75.5h1M139 75.5h1M203 75.5h1M266 75.5h1M330 75.5h1M394 75.5h1M458 75.5h1M522 75.5h1M75 77.5h1M139 77.5h1M203 77.5h1M266 77.5h1M330 77.5h1M394 77.5h1M458 77.5h1M522 77.5h1M75 78.5h1M139 78.5h1M203 78.5h1M266 78.5h1M330 78.5h1M394 78.5h1M458 78.5h1M522 78.5h1M75 80.5h1M139 80.5h1M203 80.5h1M266 80.5h1M330 80.5h1M394 80.5h1M458 80.5h1M522 80.5h1M75 81.5h1M139 81.5h1M203 81.5h1M266 81.5h1M330 81.5h1M394 81.5h1M458 81.5h1M522 81.5h1M75 83.5h1M139 83.5h1M203 83.5h1M266 83.5h1M330 83.5h1M394 83.5h1M458 83.5h1M522 83.5h1M75 84.5h1M139 84.5h1M203 84.5h1M266 84.5h1M330 84.5h1M394 84.5h1M458 84.5h1M522 84.5h1M71 85.5h5M75 86.5h1M139 86.5h1M203 86.5h1M266 86.5h1M330 86.5h1M394 86.5h1M458 86.5h1M522 86.5h1M75 87.5h1M139 87.5h1M203 87.5h1M266 87.5h1M330 87.5h1M394 87.5h1M458 87.5h1M522 87.5h1M75 89.5h1M203 89.5h1M266 89.5h1M330 89.5h1M394 89.5h1M458 89.5h1M522 89.5h1M75 90.5h1M139 90.5h1M203 90.5h1M266 90.5h1M330 90.5h1M394 90.5h1M458 90.5h1M522 90.5h1M75 92.5h1M139 92.5h1M203 92.5h1M266 92.5h1M330 92.5h1M394 92.5h1M458 92.5h1M522 92.5h1M75 93.5h1M203 93.5h1M266 93.5h1M330 93.5h1M394 93.5h1M458 93.5h1M522 93.5h1M75 95.5h1M139 95.5h1M203 95.5h1M266 95.5h1M330 95.5h1M394 95.5h1M458 95.5h1M522 95.5h1M75 96.5h1M139 96.5h1M203 96.5h1M266 96.5h1M330 96.5h1M394 96.5h1M458 96.5h1M522 96.5h1M75 98.5h1M139 98.5h1M203 98.5h1M266 98.5h1M330 98.5h1M394 98.5h1M458 98.5h1M522 98.5h1M71 99.5h5M139 99.5h1M203 99.5h1M266 99.5h1M330 99.5h1M394 99.5h1M458 99.5h1M522 99.5h1M75 101.5h1M139 101.5h1M203 101.5h1M266 101.5h1M330 101.5h1M394 101.5h1M458 101.5h1M522 101.5h1M75 102.5h1M139 102.5h1M203 102.5h1M266 102.5h1M330 102.5h1M394 102.5h1M458 102.5h1M522 102.5h1M75 104.5h1M139 104.5h1M203 104.5h1M266 104.5h1M330 104.5h1M394 104.5h1M458 104.5h1M522 104.5h1M75 105.5h1M139 105.5h1M203 105.5h1M266 105.5h1M330 105.5h1M394 105.5h1M458 105.5h1M522 105.5h1M75 107.5h1M139 107.5h1M203 107.5h1M266 107.5h1M330 107.5h1M394 107.5h1M458 107.5h1M522 107.5h1M75 108.5h1M139 108.5h1M203 108.5h1M266 108.5h1M330 108.5h1M394 108.5h1M458 108.5h1M522 108.5h1M75 110.5h1M139 110.5h1M203 110.5h1M266 110.5h1M330 110.5h1M394 110.5h1M458 110.5h1M522 110.5h1M75 111.5h1M139 111.5h1M203 111.5h1M266 111.5h1M330 111.5h1M394 111.5h1M458 111.5h1M522 111.5h1M71 113.5h5M139 113.5h1M203 113.5h1M266 113.5h1M330 113.5h1M394 113.5h1M458 113.5h1M522 113.5h1M75 114.5h1M139 114.5h1M203 114.5h1M266 114.5h1M330 114.5h1M394 114.5h1M458 114.5h1M522 114.5h1M75 116.5h1M139 116.5h1M203 116.5h1M266 116.5h1M330 116.5h1M394 116.5h1M458 116.5h1M522 116.5h1M75 117.5h1M139 117.5h1M203 117.5h1M266 117.5h1M330 117.5h1M394 117.5h1M458 117.5h1M522 117.5h1M75 119.5h1M139 119.5h1M203 119.5h1M266 119.5h1M330 119.5h1M394 119.5h1M458 119.5h1M522 119.5h1M75 120.5h1M139 120.5h1M203 120.5h1M266 120.5h1M330 120.5h1M394 120.5h1M458 120.5h1M522 120.5h1M75 122.5h1M139 122.5h1M203 122.5h1M266 122.5h1M330 122.5h1M394 122.5h1M458 122.5h1M522 122.5h1M75 123.5h1M139 123.5h1M203 123.5h1M266 123.5h1M330 123.5h1M394 123.5h1M458 123.5h1M522 123.5h1M75 125.5h1M139 125.5h1M203 125.5h1M266 125.5h1M330 125.5h1M394 125.5h1M458 125.5h1M522 125.5h1M75 126.5h1M139 126.5h1M203 126.5h1M266 126.5h1M330 126.5h1M394 126.5h1M458 126.5h1M522 126.5h1M71 127.5h5M75 128.5h1M139 128.5h1M203 128.5h1M266 128.5h1M330 128.5h1M394 128.5h1M458 128.5h1M522 128.5h1M75 129.5h1M139 129.5h1M203 129.5h1M266 129.5h1M330 129.5h1M394 129.5h1M458 129.5h1M522 129.5h1M75 131.5h1M139 131.5h1M203 131.5h1M266 131.5h1M330 131.5h1M394 131.5h1M458 131.5h1M522 131.5h1M75 132.5h1M139 132.5h1M203 132.5h1M266 132.5h1M330 132.5h1M394 132.5h1M458 132.5h1M522 132.5h1M75 134.5h1M139 134.5h1M203 134.5h1M266 134.5h1M330 134.5h1M394 134.5h1M458 134.5h1M522 134.5h1M75 135.5h1M139 135.5h1M203 135.5h1M266 135.5h1M330 135.5h1M394 135.5h1M458 135.5h1M522 135.5h1M51 137.5h4M61 137.5h1M75 137.5h1M139 137.5h1M203 137.5h1M266 137.5h1M330 137.5h1M394 137.5h1M458 137.5h1M522 137.5h1M50 138.5h1M55 138.5h1M60 138.5h2M75 138.5h1M139 138.5h1M203 138.5h1M266 138.5h1M330 138.5h1M394 138.5h1M458 138.5h1M522 138.5h1M50 139.5h1M55 139.5h1M59 139.5h1M61 139.5h1M55 140.5h1M61 140.5h1M75 140.5h1M139 140.5h1M203 140.5h1M266 140.5h1M330 140.5h1M394 140.5h1M458 140.5h1M522 140.5h1M55 141.5h1M61 141.5h1M71 141.5h10M82 141.5h2M85 141.5h2M88 141.5h2M91 141.5h2M94 141.5h2M97 141.5h2M100 141.5h2M103 141.5h2M106 141.5h2M109 141.5h2M112 141.5h2M115 141.5h2M118 141.5h2M121 141.5h2M124 141.5h2M127 141.5h2M130 141.5h2M133 141.5h2M136 141.5h2M139 141.5h2M142 141.5h2M145 141.5h2M148 141.5h2M151 141.5h2M154 141.5h2M157 141.5h2M160 141.5h2M163 141.5h2M166 141.5h2M169 141.5h2M172 141.5h2M175 141.5h2M178 141.5h2M181 141.5h2M184 141.5h1M187 141.5h2M191 141.5h1M193 141.5h2M196 141.5h2M199 141.5h2M202 141.5h2M205 141.5h2M208 141.5h2M211 141.5h2M214 141.5h2M217 141.5h2M223 141.5h2M226 141.5h2M229 141.5h2M232 141.5h2M235 141.5h2M238 141.5h2M241 141.5h2M244 141.5h2M247 141.5h2M250 141.5h2M253 141.5h2M256 141.5h2M259 141.5h2M262 141.5h2M265 141.5h2M268 141.5h2M271 141.5h2M274 141.5h2M277 141.5h2M280 141.5h2M283 141.5h2M286 141.5h2M289 141.5h2M292 141.5h2M295 141.5h2M298 141.5h2M301 141.5h2M304 141.5h2M307 141.5h2M310 141.5h2M313 141.5h2M316 141.5h2M319 141.5h2M322 141.5h2M325 141.5h2M328 141.5h5M334 141.5h2M337 141.5h2M340 141.5h2M343 141.5h2M346 141.5h2M349 141.5h2M352 141.5h2M355 141.5h2M358 141.5h2M361 141.5h2M364 141.5h2M367 141.5h2M370 141.5h2M373 141.5h2M376 141.5h2M379 141.5h2M382 141.5h2M385 141.5h2M388 141.5h2M391 141.5h2M394 141.5h2M397 141.5h2M400 141.5h2M403 141.5h2M406 141.5h2M409 141.5h2M412 141.5h2M415 141.5h2M418 141.5h2M421 141.5h2M424 141.5h2M427 141.5h2M430 141.5h2M433 141.5h2M436 141.5h2M439 141.5h2M442 141.5h2M445 141.5h2M448 141.5h2M451 141.5h2M454 141.5h2M457 141.5h2M460 141.5h2M463 141.5h2M466 141.5h2M469 141.5h2M472 141.5h2M475 141.5h2M478 141.5h2M481 141.5h2M484 141.5h2M487 141.5h2M490 141.5h2M493 141.5h2M496 141.5h2M499 141.5h2M502 141.5h2M505 141.5h2M508 141.5h2M511 141.5h2M514 141.5h2M517 141.5h2M520 141.5h5M526 141.5h2M529 141.5h2M532 141.5h2M535 141.5h2M538 141.5h2M541 141.5h2M544 141.5h2M547 141.5h2M550 141.5h2M553 141.5h2M556 141.5h2M559 141.5h2M562 141.5h2M565 141.5h2M568 141.5h2M571 141.5h2M574 141.5h2M577 141.5h2M580 141.5h1M54 142.5h1M61 142.5h1M53 143.5h1M61 143.5h1M75 143.5h1M139 143.5h1M203 143.5h1M266 143.5h1M330 143.5h1M394 143.5h1M458 143.5h1M522 143.5h1M51 144.5h2M61 144.5h1M75 144.5h1M139 144.5h1M203 144.5h1M266 144.5h1M330 144.5h1M394 144.5h1M458 144.5h1M522 144.5h1M50 145.5h1M61 145.5h1M49 146.5h8M61 146.5h1M75 146.5h1M139 146.5h1M203 146.5h1M266 146.5h1M330 146.5h1M394 146.5h1M458 146.5h1M522 146.5h1M75 147.5h1M139 147.5h1M203 147.5h1M266 147.5h1M330 147.5h1M394 147.5h1M458 147.5h1M522 147.5h1M75 149.5h1M139 149.5h1M203 149.5h1M266 149.5h1M330 149.5h1M394 149.5h1M458 149.5h1M522 149.5h1M75 150.5h1M139 150.5h1M203 150.5h1M266 150.5h1M330 150.5h1M394 150.5h1M458 150.5h1M522 150.5h1M75 152.5h1M139 152.5h1M203 152.5h1M266 152.5h1M330 152.5h1M394 152.5h1M458 152.5h1M522 152.5h1M75 153.5h1M139 153.5h1M203 153.5h1M266 153.5h1M330 153.5h1M394 153.5h1M458 153.5h1M522 153.5h1M75 155.5h1M139 155.5h1M203 155.5h1M266 155.5h1M330 155.5h1M394 155.5h1M458 155.5h1M522 155.5h1M71 156.5h5M139 156.5h1M203 156.5h1M266 156.5h1M330 156.5h1M394 156.5h1M458 156.5h1M522 156.5h1M75 158.5h1M139 158.5h1M203 158.5h1M266 158.5h1M330 158.5h1M394 158.5h1M458 158.5h1M522 158.5h1M75 159.5h1M139 159.5h1M203 159.5h1M266 159.5h1M330 159.5h1M394 159.5h1M458 159.5h1M522 159.5h1M75 161.5h1M139 161.5h1M203 161.5h1M266 161.5h1M330 161.5h1M394 161.5h1M458 161.5h1M522 161.5h1M75 162.5h1M139 162.5h1M203 162.5h1M266 162.5h1M330 162.5h1M394 162.5h1M458 162.5h1M522 162.5h1M75 164.5h1M139 164.5h1M203 164.5h1M266 164.5h1M330 164.5h1M394 164.5h1M458 164.5h1M522 164.5h1M75 165.5h1M139 165.5h1M203 165.5h1M266 165.5h1M330 165.5h1M394 165.5h1M458 165.5h1M522 165.5h1M75 167.5h1M139 167.5h1M203 167.5h1M266 167.5h1M330 167.5h1M394 167.5h1M458 167.5h1M522 167.5h1M75 168.5h1M139 168.5h1M203 168.5h1M266 168.5h1M330 168.5h1M394 168.5h1M458 168.5h1M522 168.5h1M71 170.5h5M139 170.5h1M203 170.5h1M266 170.5h1M330 170.5h1M394 170.5h1M458 170.5h1M522 170.5h1M75 171.5h1M139 171.5h1M203 171.5h1M266 171.5h1M330 171.5h1M394 171.5h1M458 171.5h1M522 171.5h1M75 173.5h1M139 173.5h1M203 173.5h1M266 173.5h1M330 173.5h1M394 173.5h1M458 173.5h1M522 173.5h1M75 174.5h1M139 174.5h1M203 174.5h1M266 174.5h1M330 174.5h1M394 174.5h1M458 174.5h1M522 174.5h1M75 176.5h1M139 176.5h1M203 176.5h1M266 176.5h1M330 176.5h1M394 176.5h1M458 176.5h1M522 176.5h1M75 177.5h1M139 177.5h1M203 177.5h1M266 177.5h1M330 177.5h1M394 177.5h1M458 177.5h1M522 177.5h1M75 179.5h1M139 179.5h1M203 179.5h1M266 179.5h1M330 179.5h1M394 179.5h1M458 179.5h1M522 179.5h1M75 180.5h1M139 180.5h1M203 180.5h1M266 180.5h1M330 180.5h1M394 180.5h1M458 180.5h1M522 180.5h1M75 182.5h1M139 182.5h1M203 182.5h1M266 182.5h1M330 182.5h1M394 182.5h1M458 182.5h1M522 182.5h1M75 183.5h1M139 183.5h1M203 183.5h1M266 183.5h1M330 183.5h1M394 183.5h1M458 183.5h1M522 183.5h1M71 184.5h5M75 185.5h1M139 185.5h1M203 185.5h1M266 185.5h1M330 185.5h1M394 185.5h1M458 185.5h1M522 185.5h1M75 186.5h1M139 186.5h1M203 186.5h1M266 186.5h1M330 186.5h1M394 186.5h1M458 186.5h1M522 186.5h1M75 188.5h1M139 188.5h1M203 188.5h1M266 188.5h1M330 188.5h1M394 188.5h1M458 188.5h1M522 188.5h1M75 189.5h1M139 189.5h1M203 189.5h1M266 189.5h1M330 189.5h1M394 189.5h1M458 189.5h1M522 189.5h1M75 191.5h1M139 191.5h1M203 191.5h1M266 191.5h1M330 191.5h1M394 191.5h1M458 191.5h1M522 191.5h1M75 192.5h1M139 192.5h1M203 192.5h1M266 192.5h1M330 192.5h1M394 192.5h1M458 192.5h1M522 192.5h1M75 194.5h1M139 194.5h1M203 194.5h1M266 194.5h1M330 194.5h1M394 194.5h1M458 194.5h1M522 194.5h1M75 195.5h1M139 195.5h1M203 195.5h1M266 195.5h1M330 195.5h1M394 195.5h1M458 195.5h1M522 195.5h1M75 197.5h1M139 197.5h1M203 197.5h1M266 197.5h1M330 197.5h1M394 197.5h1M458 197.5h1M522 197.5h1M71 198.5h5M139 198.5h1M203 198.5h1M266 198.5h1M330 198.5h1M394 198.5h1M458 198.5h1M522 198.5h1M75 200.5h1M139 200.5h1M203 200.5h1M266 200.5h1M330 200.5h1M394 200.5h1M458 200.5h1M522 200.5h1M75 201.5h1M139 201.5h1M203 201.5h1M266 201.5h1M330 201.5h1M394 201.5h1M458 201.5h1M522 201.5h1M75 203.5h1M139 203.5h1M203 203.5h1M266 203.5h1M330 203.5h1M394 203.5h1M458 203.5h1M522 203.5h1M75 204.5h1M139 204.5h1M203 204.5h1M266 204.5h1M330 204.5h1M394 204.5h1M458 204.5h1M522 204.5h1M75 206.5h1M139 206.5h1M203 206.5h1M266 206.5h1M330 206.5h1M394 206.5h1M458 206.5h1M522 206.5h1M75 207.5h1M139 207.5h1M203 207.5h1M266 207.5h1M330 207.5h1M394 207.5h1M458 207.5h1M522 207.5h1M51 208.5h4M59 208.5h5M50 209.5h1M55 209.5h1M58 209.5h2M63 209.5h2M75 209.5h1M139 209.5h1M203 209.5h1M266 209.5h1M330 209.5h1M394 209.5h1M458 209.5h1M522 209.5h1M50 210.5h1M55 210.5h1M58 210.5h1M64 210.5h1M75 210.5h1M139 210.5h1M203 210.5h1M266 210.5h1M330 210.5h1M394 210.5h1M458 210.5h1M522 210.5h1M55 211.5h1M63 211.5h1M55 212.5h1M63 212.5h1M71 212.5h10M82 212.5h2M85 212.5h2M88 212.5h2M91 212.5h2M94 212.5h2M97 212.5h2M100 212.5h2M103 212.5h2M106 212.5h2M109 212.5h2M112 212.5h2M115 212.5h2M118 212.5h2M121 212.5h2M124 212.5h2M127 212.5h2M130 212.5h2M133 212.5h2M136 212.5h2M139 212.5h2M142 212.5h2M145 212.5h2M148 212.5h2M151 212.5h2M154 212.5h2M157 212.5h2M160 212.5h1M163 212.5h2M166 212.5h2M169 212.5h2M172 212.5h2M175 212.5h2M178 212.5h2M181 212.5h2M184 212.5h2M187 212.5h2M190 212.5h2M193 212.5h2M196 212.5h2M199 212.5h2M202 212.5h2M205 212.5h2M208 212.5h2M211 212.5h2M214 212.5h2M217 212.5h2M221 212.5h1M223 212.5h2M226 212.5h2M229 212.5h2M232 212.5h2M235 212.5h2M238 212.5h2M241 212.5h2M244 212.5h2M247 212.5h2M250 212.5h2M253 212.5h2M256 212.5h2M259 212.5h2M262 212.5h2M265 212.5h2M268 212.5h2M271 212.5h2M274 212.5h2M277 212.5h2M280 212.5h2M283 212.5h2M286 212.5h2M289 212.5h2M292 212.5h2M295 212.5h2M298 212.5h2M301 212.5h2M304 212.5h2M307 212.5h2M310 212.5h2M313 212.5h2M316 212.5h2M320 212.5h1M322 212.5h2M325 212.5h2M328 212.5h5M334 212.5h2M337 212.5h1M340 212.5h2M343 212.5h2M346 212.5h2M349 212.5h2M352 212.5h2M355 212.5h2M358 212.5h2M361 212.5h2M364 212.5h2M367 212.5h2M370 212.5h2M373 212.5h1M376 212.5h2M379 212.5h2M382 212.5h2M385 212.5h2M388 212.5h2M391 212.5h2M394 212.5h2M397 212.5h2M400 212.5h2M403 212.5h2M406 212.5h2M409 212.5h2M412 212.5h2M415 212.5h2M418 212.5h2M421 212.5h2M424 212.5h2M427 212.5h2M430 212.5h2M433 212.5h2M436 212.5h2M439 212.5h2M442 212.5h2M445 212.5h2M448 212.5h2M451 212.5h2M454 212.5h2M457 212.5h2M460 212.5h2M463 212.5h2M466 212.5h2M469 212.5h2M472 212.5h1M475 212.5h2M478 212.5h2M481 212.5h2M484 212.5h2M487 212.5h2M490 212.5h2M493 212.5h2M496 212.5h2M499 212.5h2M502 212.5h2M508 212.5h2M511 212.5h2M514 212.5h2M517 212.5h2M520 212.5h5M526 212.5h2M529 212.5h2M532 212.5h2M535 212.5h2M538 212.5h2M541 212.5h2M544 212.5h2M547 212.5h2M550 212.5h2M553 212.5h2M556 212.5h2M559 212.5h2M562 212.5h2M565 212.5h2M568 212.5h2M571 212.5h2M574 212.5h2M577 212.5h2M580 212.5h1M54 213.5h1M62 213.5h1M75 213.5h1M139 213.5h1M203 213.5h1M266 213.5h1M330 213.5h1M394 213.5h1M458 213.5h1M522 213.5h1M53 214.5h1M61 214.5h1M51 215.5h2M60 215.5h1M75 215.5h1M139 215.5h1M203 215.5h1M266 215.5h1M330 215.5h1M394 215.5h1M458 215.5h1M522 215.5h1M50 216.5h1M59 216.5h1M75 216.5h1M139 216.5h1M203 216.5h1M266 216.5h1M330 216.5h1M394 216.5h1M458 216.5h1M522 216.5h1M49 217.5h8M58 217.5h7M75 218.5h1M139 218.5h1M203 218.5h1M266 218.5h1M330 218.5h1M394 218.5h1M458 218.5h1M522 218.5h1M75 219.5h1M139 219.5h1M203 219.5h1M266 219.5h1M330 219.5h1M394 219.5h1M458 219.5h1M522 219.5h1M75 221.5h1M139 221.5h1M203 221.5h1M266 221.5h1M330 221.5h1M394 221.5h1M458 221.5h1M522 221.5h1M75 222.5h1M139 222.5h1M203 222.5h1M266 222.5h1M330 222.5h1M394 222.5h1M458 222.5h1M522 222.5h1M75 224.5h1M139 224.5h1M203 224.5h1M266 224.5h1M330 224.5h1M394 224.5h1M458 224.5h1M522 224.5h1M75 225.5h1M139 225.5h1M203 225.5h1M266 225.5h1M330 225.5h1M394 225.5h1M458 225.5h1M522 225.5h1M71 226.5h5M75 227.5h1M139 227.5h1M203 227.5h1M266 227.5h1M330 227.5h1M394 227.5h1M458 227.5h1M522 227.5h1M75 228.5h1M139 228.5h1M203 228.5h1M266 228.5h1M330 228.5h1M394 228.5h1M458 228.5h1M522 228.5h1M75 230.5h1M139 230.5h1M203 230.5h1M266 230.5h1M330 230.5h1M394 230.5h1M458 230.5h1M522 230.5h1M75 231.5h1M139 231.5h1M203 231.5h1M266 231.5h1M330 231.5h1M394 231.5h1M458 231.5h1M522 231.5h1M75 233.5h1M139 233.5h1M203 233.5h1M266 233.5h1M330 233.5h1M394 233.5h1M458 233.5h1M522 233.5h1M75 234.5h1M139 234.5h1M203 234.5h1M266 234.5h1M330 234.5h1M394 234.5h1M458 234.5h1M522 234.5h1M75 236.5h1M139 236.5h1M203 236.5h1M266 236.5h1M330 236.5h1M394 236.5h1M458 236.5h1M522 236.5h1M75 237.5h1M139 237.5h1M203 237.5h1M266 237.5h1M330 237.5h1M394 237.5h1M458 237.5h1M522 237.5h1M75 239.5h1M139 239.5h1M203 239.5h1M266 239.5h1M330 239.5h1M394 239.5h1M458 239.5h1M522 239.5h1M75 240.5h1M139 240.5h1M203 240.5h1M266 240.5h1M330 240.5h1M394 240.5h1M458 240.5h1M522 240.5h1M71 241.5h5M75 242.5h1M139 242.5h1M203 242.5h1M266 242.5h1M330 242.5h1M394 242.5h1M458 242.5h1M522 242.5h1M75 243.5h1M139 243.5h1M203 243.5h1M266 243.5h1M330 243.5h1M394 243.5h1M458 243.5h1M522 243.5h1M75 245.5h1M139 245.5h1M203 245.5h1M266 245.5h1M330 245.5h1M394 245.5h1M458 245.5h1M522 245.5h1M75 246.5h1M139 246.5h1M203 246.5h1M266 246.5h1M330 246.5h1M394 246.5h1M458 246.5h1M522 246.5h1M75 248.5h1M139 248.5h1M203 248.5h1M266 248.5h1M330 248.5h1M394 248.5h1M458 248.5h1M522 248.5h1M75 249.5h1M139 249.5h1M203 249.5h1M266 249.5h1M330 249.5h1M394 249.5h1M458 249.5h1M522 249.5h1M75 251.5h1M139 251.5h1M203 251.5h1M266 251.5h1M330 251.5h1M394 251.5h1M458 251.5h1M522 251.5h1M75 252.5h1M139 252.5h1M203 252.5h1M266 252.5h1M330 252.5h1M394 252.5h1M458 252.5h1M522 252.5h1M75 254.5h1M139 254.5h1M203 254.5h1M266 254.5h1M330 254.5h1M394 254.5h1M458 254.5h1M522 254.5h1M71 255.5h5M139 255.5h1M203 255.5h1M266 255.5h1M330 255.5h1M394 255.5h1M458 255.5h1M522 255.5h1M75 257.5h1M139 257.5h1M203 257.5h1M266 257.5h1M330 257.5h1M394 257.5h1M458 257.5h1M522 257.5h1M75 258.5h1M139 258.5h1M203 258.5h1M266 258.5h1M330 258.5h1M394 258.5h1M458 258.5h1M522 258.5h1M75 260.5h1M139 260.5h1M203 260.5h1M266 260.5h1M330 260.5h1M394 260.5h1M458 260.5h1M522 260.5h1M75 261.5h1M139 261.5h1M203 261.5h1M266 261.5h1M330 261.5h1M394 261.5h1M458 261.5h1M522 261.5h1M75 263.5h1M139 263.5h1M203 263.5h1M266 263.5h1M330 263.5h1M394 263.5h1M458 263.5h1M522 263.5h1M75 264.5h1M139 264.5h1M203 264.5h1M266 264.5h1M330 264.5h1M394 264.5h1M458 264.5h1M522 264.5h1M75 266.5h1M139 266.5h1M203 266.5h1M266 266.5h1M330 266.5h1M394 266.5h1M458 266.5h1M522 266.5h1M75 267.5h1M139 267.5h1M203 267.5h1M266 267.5h1M330 267.5h1M394 267.5h1M458 267.5h1M522 267.5h1M71 269.5h5M139 269.5h1M203 269.5h1M266 269.5h1M330 269.5h1M394 269.5h1M458 269.5h1M522 269.5h1M75 270.5h1M139 270.5h1M203 270.5h1M266 270.5h1M330 270.5h1M394 270.5h1M458 270.5h1M522 270.5h1M75 272.5h1M139 272.5h1M203 272.5h1M266 272.5h1M330 272.5h1M394 272.5h1M458 272.5h1M522 272.5h1M75 273.5h1M139 273.5h1M203 273.5h1M266 273.5h1M330 273.5h1M394 273.5h1M458 273.5h1M522 273.5h1M75 275.5h1M139 275.5h1M203 275.5h1M266 275.5h1M330 275.5h1M394 275.5h1M458 275.5h1M522 275.5h1M75 276.5h1M139 276.5h1M203 276.5h1M266 276.5h1M330 276.5h1M394 276.5h1M458 276.5h1M522 276.5h1M75 278.5h1M139 278.5h1M203 278.5h1M266 278.5h1M330 278.5h1M394 278.5h1M458 278.5h1M522 278.5h1M51 279.5h4M59 279.5h6M75 279.5h1M139 279.5h1M203 279.5h1M266 279.5h1M330 279.5h1M394 279.5h1M458 279.5h1M522 279.5h1M50 280.5h1M55 280.5h1M63 280.5h1M50 281.5h1M55 281.5h1M62 281.5h1M75 281.5h1M139 281.5h1M203 281.5h1M266 281.5h1M330 281.5h1M394 281.5h1M458 281.5h1M522 281.5h1M55 282.5h1M61 282.5h2M75 282.5h1M139 282.5h1M203 282.5h1M266 282.5h1M330 282.5h1M394 282.5h1M458 282.5h1M522 282.5h1M54 283.5h1M63 283.5h2M71 283.5h10M82 283.5h2M85 283.5h2M88 283.5h2M91 283.5h2M94 283.5h2M97 283.5h2M100 283.5h2M103 283.5h2M106 283.5h2M109 283.5h2M112 283.5h2M115 283.5h2M118 283.5h2M121 283.5h2M124 283.5h2M127 283.5h2M130 283.5h2M133 283.5h2M136 283.5h2M139 283.5h2M142 283.5h2M145 283.5h2M148 283.5h2M151 283.5h2M154 283.5h2M157 283.5h2M160 283.5h2M163 283.5h2M166 283.5h2M169 283.5h2M172 283.5h2M175 283.5h2M178 283.5h2M181 283.5h2M184 283.5h2M187 283.5h2M190 283.5h2M193 283.5h2M196 283.5h2M199 283.5h2M202 283.5h2M205 283.5h2M208 283.5h2M211 283.5h2M214 283.5h2M217 283.5h2M220 283.5h2M223 283.5h2M226 283.5h2M229 283.5h2M232 283.5h2M235 283.5h2M238 283.5h2M241 283.5h2M244 283.5h2M247 283.5h2M250 283.5h2M253 283.5h2M256 283.5h2M259 283.5h2M262 283.5h2M265 283.5h2M268 283.5h2M271 283.5h2M274 283.5h2M277 283.5h2M280 283.5h2M284 283.5h1M286 283.5h2M289 283.5h2M292 283.5h2M295 283.5h2M298 283.5h2M301 283.5h2M304 283.5h2M307 283.5h2M310 283.5h2M313 283.5h2M316 283.5h2M319 283.5h2M322 283.5h2M325 283.5h2M328 283.5h2M331 283.5h2M334 283.5h2M337 283.5h2M340 283.5h2M343 283.5h2M346 283.5h2M349 283.5h2M352 283.5h2M355 283.5h2M358 283.5h2M361 283.5h2M364 283.5h2M367 283.5h2M370 283.5h2M373 283.5h2M376 283.5h2M379 283.5h2M382 283.5h2M385 283.5h2M388 283.5h2M391 283.5h2M394 283.5h2M397 283.5h2M400 283.5h2M403 283.5h2M406 283.5h2M409 283.5h1M413 283.5h1M415 283.5h2M418 283.5h2M421 283.5h2M424 283.5h2M427 283.5h2M430 283.5h2M433 283.5h2M439 283.5h2M442 283.5h2M445 283.5h2M448 283.5h2M451 283.5h2M454 283.5h2M457 283.5h2M460 283.5h2M463 283.5h2M466 283.5h2M469 283.5h2M472 283.5h2M475 283.5h2M478 283.5h2M481 283.5h2M484 283.5h2M487 283.5h2M490 283.5h2M493 283.5h2M496 283.5h2M499 283.5h2M502 283.5h2M505 283.5h2M508 283.5h2M511 283.5h2M514 283.5h2M517 283.5h2M520 283.5h2M523 283.5h2M526 283.5h2M529 283.5h2M532 283.5h1M535 283.5h2M538 283.5h2M541 283.5h2M544 283.5h2M547 283.5h2M550 283.5h2M553 283.5h2M556 283.5h2M559 283.5h2M562 283.5h2M565 283.5h2M568 283.5h2M571 283.5h2M574 283.5h2M577 283.5h2M580 283.5h1M53 284.5h1M64 284.5h1M75 284.5h1M139 284.5h1M203 284.5h1M266 284.5h1M330 284.5h1M394 284.5h1M458 284.5h1M522 284.5h1M52 285.5h1M64 285.5h1M75 285.5h1M139 285.5h1M203 285.5h1M266 285.5h1M330 285.5h1M394 285.5h1M458 285.5h1M522 285.5h1M51 286.5h1M58 286.5h1M64 286.5h1M50 287.5h1M58 287.5h2M63 287.5h1M75 287.5h1M139 287.5h1M203 287.5h1M266 287.5h1M330 287.5h1M394 287.5h1M458 287.5h1M522 287.5h1M49 288.5h8M60 288.5h3M75 288.5h1M139 288.5h1M203 288.5h1M266 288.5h1M330 288.5h1M394 288.5h1M458 288.5h1M522 288.5h1M75 290.5h1M139 290.5h1M203 290.5h1M266 290.5h1M330 290.5h1M394 290.5h1M458 290.5h1M522 290.5h1M75 291.5h1M139 291.5h1M203 291.5h1M266 291.5h1M330 291.5h1M394 291.5h1M458 291.5h1M522 291.5h1M75 293.5h1M139 293.5h1M203 293.5h1M266 293.5h1M330 293.5h1M394 293.5h1M458 293.5h1M522 293.5h1M75 294.5h1M139 294.5h1M203 294.5h1M266 294.5h1M330 294.5h1M394 294.5h1M458 294.5h1M522 294.5h1M75 296.5h1M139 296.5h1M203 296.5h1M266 296.5h1M330 296.5h1M394 296.5h1M458 296.5h1M522 296.5h1M71 297.5h5M139 297.5h1M203 297.5h1M266 297.5h1M330 297.5h1M394 297.5h1M458 297.5h1M522 297.5h1M75 299.5h1M139 299.5h1M203 299.5h1M266 299.5h1M330 299.5h1M394 299.5h1M458 299.5h1M522 299.5h1M75 300.5h1M139 300.5h1M203 300.5h1M266 300.5h1M330 300.5h1M394 300.5h1M458 300.5h1M522 300.5h1M75 302.5h1M139 302.5h1M203 302.5h1M266 302.5h1M330 302.5h1M394 302.5h1M458 302.5h1M522 302.5h1M75 303.5h1M139 303.5h1M203 303.5h1M266 303.5h1M330 303.5h1M394 303.5h1M458 303.5h1M522 303.5h1M75 305.5h1M139 305.5h1M203 305.5h1M266 305.5h1M330 305.5h1M394 305.5h1M458 305.5h1M522 305.5h1M75 306.5h1M139 306.5h1M203 306.5h1M266 306.5h1M330 306.5h1M394 306.5h1M458 306.5h1M522 306.5h1M75 308.5h1M139 308.5h1M203 308.5h1M266 308.5h1M330 308.5h1M394 308.5h1M458 308.5h1M522 308.5h1M75 309.5h1M139 309.5h1M203 309.5h1M266 309.5h1M330 309.5h1M394 309.5h1M458 309.5h1M522 309.5h1M75 311.5h1M139 311.5h1M203 311.5h1M266 311.5h1M330 311.5h1M394 311.5h1M458 311.5h1M522 311.5h1M71 312.5h5M139 312.5h1M203 312.5h1M266 312.5h1M330 312.5h1M394 312.5h1M458 312.5h1M522 312.5h1M75 314.5h1M139 314.5h1M203 314.5h1M266 314.5h1M330 314.5h1M394 314.5h1M458 314.5h1M522 314.5h1M75 315.5h1M139 315.5h1M203 315.5h1M266 315.5h1M330 315.5h1M394 315.5h1M458 315.5h1M522 315.5h1M75 317.5h1M139 317.5h1M203 317.5h1M266 317.5h1M330 317.5h1M394 317.5h1M458 317.5h1M522 317.5h1M75 318.5h1M139 318.5h1M203 318.5h1M266 318.5h1M330 318.5h1M394 318.5h1M458 318.5h1M522 318.5h1M75 320.5h1M139 320.5h1M203 320.5h1M266 320.5h1M330 320.5h1M394 320.5h1M458 320.5h1M522 320.5h1M75 321.5h1M139 321.5h1M203 321.5h1M266 321.5h1M330 321.5h1M394 321.5h1M458 321.5h1M522 321.5h1M75 323.5h1M139 323.5h1M203 323.5h1M266 323.5h1M330 323.5h1M394 323.5h1M458 323.5h1M522 323.5h1M75 324.5h1M139 324.5h1M203 324.5h1M266 324.5h1M330 324.5h1M394 324.5h1M458 324.5h1M522 324.5h1M71 326.5h5M139 326.5h1M203 326.5h1M266 326.5h1M330 326.5h1M394 326.5h1M458 326.5h1M522 326.5h1M75 327.5h1M139 327.5h1M203 327.5h1M266 327.5h1M330 327.5h1M394 327.5h1M458 327.5h1M522 327.5h1M75 329.5h1M139 329.5h1M203 329.5h1M266 329.5h1M330 329.5h1M394 329.5h1M458 329.5h1M522 329.5h1M75 330.5h1M139 330.5h1M203 330.5h1M266 330.5h1M330 330.5h1M394 330.5h1M458 330.5h1M522 330.5h1M75 332.5h1M139 332.5h1M203 332.5h1M266 332.5h1M330 332.5h1M394 332.5h1M458 332.5h1M522 332.5h1M75 333.5h1M139 333.5h1M203 333.5h1M266 333.5h1M330 333.5h1M394 333.5h1M458 333.5h1M522 333.5h1M75 335.5h1M139 335.5h1M203 335.5h1M266 335.5h1M330 335.5h1M394 335.5h1M458 335.5h1M522 335.5h1M75 336.5h1M139 336.5h1M203 336.5h1M266 336.5h1M330 336.5h1M394 336.5h1M458 336.5h1M522 336.5h1M75 338.5h1M139 338.5h1M203 338.5h1M266 338.5h1M330 338.5h1M394 338.5h1M458 338.5h1M522 338.5h1M75 339.5h1M139 339.5h1M203 339.5h1M266 339.5h1M330 339.5h1M394 339.5h1M458 339.5h1M522 339.5h1M71 340.5h5M75 341.5h1M139 341.5h1M203 341.5h1M266 341.5h1M330 341.5h1M394 341.5h1M458 341.5h1M522 341.5h1M75 342.5h1M139 342.5h1M203 342.5h1M266 342.5h1M330 342.5h1M394 342.5h1M458 342.5h1M522 342.5h1M75 344.5h1M139 344.5h1M203 344.5h1M266 344.5h1M330 344.5h1M394 344.5h1M458 344.5h1M522 344.5h1M75 345.5h1M139 345.5h1M203 345.5h1M266 345.5h1M330 345.5h1M394 345.5h1M458 345.5h1M522 345.5h1M75 347.5h1M139 347.5h1M203 347.5h1M266 347.5h1M330 347.5h1M394 347.5h1M458 347.5h1M522 347.5h1M75 348.5h1M139 348.5h1M203 348.5h1M266 348.5h1M330 348.5h1M394 348.5h1M458 348.5h1M522 348.5h1M50 350.5h6M62 350.5h1M75 350.5h1M139 350.5h1M203 350.5h1M266 350.5h1M330 350.5h1M394 350.5h1M458 350.5h1M522 350.5h1M50 351.5h1M55 351.5h1M61 351.5h2M75 351.5h1M139 351.5h1M203 351.5h1M266 351.5h1M330 351.5h1M394 351.5h1M458 351.5h1M522 351.5h1M50 352.5h1M55 352.5h1M61 352.5h2M55 353.5h1M60 353.5h1M62 353.5h1M75 353.5h1M139 353.5h1M203 353.5h1M266 353.5h1M330 353.5h1M394 353.5h1M458 353.5h1M522 353.5h1M54 354.5h1M59 354.5h1M62 354.5h1M71 354.5h10M82 354.5h2M85 354.5h2M88 354.5h2M91 354.5h2M94 354.5h2M97 354.5h2M100 354.5h2M103 354.5h2M106 354.5h2M109 354.5h2M112 354.5h2M115 354.5h2M118 354.5h2M121 354.5h2M124 354.5h2M127 354.5h2M130 354.5h2M133 354.5h2M136 354.5h2M139 354.5h2M142 354.5h2M145 354.5h2M148 354.5h2M151 354.5h2M154 354.5h2M157 354.5h2M160 354.5h2M163 354.5h2M166 354.5h2M169 354.5h2M172 354.5h2M175 354.5h2M178 354.5h2M181 354.5h2M184 354.5h2M187 354.5h2M190 354.5h2M193 354.5h2M196 354.5h2M199 354.5h2M202 354.5h2M205 354.5h2M208 354.5h2M211 354.5h2M214 354.5h2M217 354.5h2M220 354.5h2M223 354.5h2M226 354.5h2M229 354.5h2M232 354.5h2M235 354.5h2M238 354.5h2M241 354.5h2M244 354.5h2M247 354.5h2M250 354.5h2M253 354.5h2M256 354.5h2M259 354.5h2M262 354.5h2M265 354.5h2M268 354.5h2M271 354.5h2M274 354.5h2M277 354.5h2M280 354.5h2M283 354.5h2M286 354.5h2M289 354.5h2M292 354.5h2M295 354.5h2M298 354.5h2M301 354.5h2M304 354.5h2M307 354.5h2M310 354.5h2M313 354.5h2M316 354.5h2M319 354.5h2M322 354.5h2M325 354.5h2M328 354.5h5M334 354.5h2M337 354.5h2M340 354.5h2M343 354.5h2M346 354.5h2M349 354.5h2M352 354.5h2M355 354.5h2M358 354.5h2M361 354.5h2M364 354.5h2M367 354.5h2M370 354.5h2M373 354.5h2M376 354.5h2M379 354.5h2M382 354.5h2M385 354.5h2M388 354.5h2M391 354.5h2M394 354.5h2M397 354.5h2M400 354.5h2M403 354.5h2M409 354.5h2M412 354.5h2M415 354.5h2M418 354.5h2M421 354.5h2M424 354.5h2M427 354.5h2M430 354.5h2M433 354.5h2M436 354.5h2M439 354.5h2M443 354.5h1M445 354.5h2M449 354.5h1M451 354.5h2M454 354.5h2M457 354.5h2M460 354.5h2M463 354.5h2M466 354.5h2M469 354.5h2M472 354.5h2M475 354.5h2M478 354.5h2M481 354.5h2M484 354.5h2M487 354.5h2M490 354.5h2M493 354.5h2M496 354.5h2M499 354.5h2M502 354.5h2M505 354.5h2M508 354.5h2M511 354.5h2M514 354.5h2M517 354.5h2M520 354.5h5M526 354.5h2M529 354.5h2M532 354.5h2M535 354.5h2M538 354.5h2M541 354.5h2M544 354.5h2M547 354.5h2M550 354.5h2M553 354.5h2M556 354.5h2M559 354.5h2M562 354.5h2M565 354.5h2M568 354.5h1M571 354.5h2M574 354.5h2M577 354.5h2M580 354.5h1M53 355.5h1M59 355.5h1M62 355.5h1M52 356.5h1M58 356.5h8M75 356.5h1M139 356.5h1M203 356.5h1M266 356.5h1M330 356.5h1M394 356.5h1M458 356.5h1M522 356.5h1M51 357.5h1M62 357.5h1M75 357.5h1M139 357.5h1M203 357.5h1M266 357.5h1M330 357.5h1M394 357.5h1M458 357.5h1M522 357.5h1M50 358.5h1M62 358.5h1M49 359.5h8M62 359.5h1M75 359.5h1M139 359.5h1M203 359.5h1M266 359.5h1M330 359.5h1M394 359.5h1M458 359.5h1M522 359.5h1M75 360.5h1M139 360.5h1M203 360.5h1M266 360.5h1M330 360.5h1M394 360.5h1M458 360.5h1M522 360.5h1M75 362.5h1M139 362.5h1M203 362.5h1M266 362.5h1M330 362.5h1M394 362.5h1M458 362.5h1M522 362.5h1M75 363.5h1M139 363.5h1M203 363.5h1M266 363.5h1M330 363.5h1M394 363.5h1M458 363.5h1M522 363.5h1M75 365.5h1M139 365.5h1M203 365.5h1M266 365.5h1M330 365.5h1M394 365.5h1M458 365.5h1M522 365.5h1M75 366.5h1M139 366.5h1M203 366.5h1M266 366.5h1M330 366.5h1M394 366.5h1M458 366.5h1M522 366.5h1M71 368.5h5M139 368.5h1M203 368.5h1M266 368.5h1M330 368.5h1M394 368.5h1M458 368.5h1M522 368.5h1M75 369.5h1M139 369.5h1M203 369.5h1M266 369.5h1M330 369.5h1M394 369.5h1M458 369.5h1M522 369.5h1M75 371.5h1M139 371.5h1M203 371.5h1M266 371.5h1M330 371.5h1M394 371.5h1M458 371.5h1M522 371.5h1M75 372.5h1M139 372.5h1M203 372.5h1M266 372.5h1M330 372.5h1M394 372.5h1M458 372.5h1M522 372.5h1M75 374.5h1M139 374.5h1M203 374.5h1M266 374.5h1M330 374.5h1M394 374.5h1M458 374.5h1M522 374.5h1M75 375.5h1M139 375.5h1M203 375.5h1M266 375.5h1M330 375.5h1M394 375.5h1M458 375.5h1M522 375.5h1M75 377.5h1M139 377.5h1M203 377.5h1M266 377.5h1M330 377.5h1M394 377.5h1M458 377.5h1M522 377.5h1M75 378.5h1M139 378.5h1M203 378.5h1M266 378.5h1M330 378.5h1M394 378.5h1M458 378.5h1M522 378.5h1M75 380.5h1M139 380.5h1M203 380.5h1M266 380.5h1M330 380.5h1M394 380.5h1M458 380.5h1M522 380.5h1M75 381.5h1M139 381.5h1M203 381.5h1M266 381.5h1M330 381.5h1M394 381.5h1M458 381.5h1M522 381.5h1M71 382.5h5M75 383.5h1M139 383.5h1M203 383.5h1M266 383.5h1M330 383.5h1M394 383.5h1M458 383.5h1M522 383.5h1M75 384.5h1M139 384.5h1M203 384.5h1M266 384.5h1M330 384.5h1M394 384.5h1M458 384.5h1M522 384.5h1M75 386.5h1M139 386.5h1M203 386.5h1M266 386.5h1M330 386.5h1M394 386.5h1M458 386.5h1M522 386.5h1M75 387.5h1M139 387.5h1M203 387.5h1M266 387.5h1M330 387.5h1M394 387.5h1M458 387.5h1M522 387.5h1M75 389.5h1M139 389.5h1M203 389.5h1M266 389.5h1M330 389.5h1M394 389.5h1M458 389.5h1M522 389.5h1M75 390.5h1M139 390.5h1M203 390.5h1M266 390.5h1M330 390.5h1M394 390.5h1M458 390.5h1M522 390.5h1M75 392.5h1M139 392.5h1M203 392.5h1M266 392.5h1M330 392.5h1M394 392.5h1M458 392.5h1M522 392.5h1M75 393.5h1M139 393.5h1M203 393.5h1M266 393.5h1M330 393.5h1M394 393.5h1M458 393.5h1M522 393.5h1M75 395.5h1M139 395.5h1M203 395.5h1M266 395.5h1M330 395.5h1M394 395.5h1M458 395.5h1M522 395.5h1M75 396.5h1M139 396.5h1M203 396.5h1M266 396.5h1M330 396.5h1M394 396.5h1M458 396.5h1M522 396.5h1M71 397.5h5M75 398.5h1M139 398.5h1M203 398.5h1M266 398.5h1M330 398.5h1M394 398.5h1M458 398.5h1M522 398.5h1M75 399.5h1M139 399.5h1M203 399.5h1M266 399.5h1M330 399.5h1M394 399.5h1M458 399.5h1M522 399.5h1M75 401.5h1M139 401.5h1M203 401.5h1M266 401.5h1M330 401.5h1M394 401.5h1M458 401.5h1M522 401.5h1M75 402.5h1M139 402.5h1M203 402.5h1M266 402.5h1M330 402.5h1M394 402.5h1M458 402.5h1M522 402.5h1M75 404.5h1M139 404.5h1M203 404.5h1M266 404.5h1M330 404.5h1M394 404.5h1M458 404.5h1M522 404.5h1M75 405.5h1M139 405.5h1M203 405.5h1M266 405.5h1M330 405.5h1M394 405.5h1M458 405.5h1M522 405.5h1M75 407.5h1M139 407.5h1M203 407.5h1M266 407.5h1M330 407.5h1M394 407.5h1M458 407.5h1M522 407.5h1M75 408.5h1M139 408.5h1M203 408.5h1M266 408.5h1M330 408.5h1M394 408.5h1M458 408.5h1M522 408.5h1M75 410.5h1M139 410.5h1M203 410.5h1M266 410.5h1M330 410.5h1M394 410.5h1M458 410.5h1M522 410.5h1M71 411.5h5M139 411.5h1M203 411.5h1M266 411.5h1M330 411.5h1M394 411.5h1M458 411.5h1M522 411.5h1M75 413.5h1M139 413.5h1M203 413.5h1M266 413.5h1M330 413.5h1M394 413.5h1M458 413.5h1M522 413.5h1M75 414.5h1M139 414.5h1M203 414.5h1M266 414.5h1M330 414.5h1M394 414.5h1M458 414.5h1M522 414.5h1M75 416.5h1M139 416.5h1M203 416.5h1M266 416.5h1M330 416.5h1M394 416.5h1M458 416.5h1M522 416.5h1M75 417.5h1M139 417.5h1M203 417.5h1M266 417.5h1M330 417.5h1M394 417.5h1M458 417.5h1M522 417.5h1M75 419.5h1M139 419.5h1M203 419.5h1M266 419.5h1M330 419.5h1M394 419.5h1M458 419.5h1M522 419.5h1M51 420.5h3M59 420.5h5M75 420.5h1M139 420.5h1M203 420.5h1M266 420.5h1M330 420.5h1M394 420.5h1M458 420.5h1M522 420.5h1M50 421.5h2M54 421.5h2M59 421.5h1M50 422.5h1M55 422.5h1M59 422.5h1M75 422.5h1M139 422.5h1M203 422.5h1M266 422.5h1M330 422.5h1M394 422.5h1M458 422.5h1M522 422.5h1M50 423.5h1M55 423.5h1M58 423.5h1M60 423.5h2M75 423.5h1M139 423.5h1M203 423.5h1M266 423.5h1M330 423.5h1M394 423.5h1M458 423.5h1M522 423.5h1M55 424.5h1M58 424.5h2M62 424.5h2M54 425.5h1M64 425.5h1M71 425.5h10M82 425.5h2M85 425.5h2M88 425.5h2M91 425.5h2M94 425.5h2M97 425.5h2M100 425.5h2M103 425.5h2M106 425.5h2M109 425.5h2M112 425.5h2M115 425.5h2M118 425.5h2M121 425.5h2M124 425.5h2M127 425.5h2M130 425.5h2M133 425.5h2M136 425.5h2M139 425.5h2M142 425.5h2M145 425.5h2M148 425.5h2M151 425.5h2M154 425.5h2M157 425.5h2M160 425.5h2M163 425.5h2M166 425.5h2M169 425.5h2M172 425.5h2M175 425.5h2M178 425.5h2M181 425.5h2M184 425.5h2M187 425.5h2M190 425.5h2M193 425.5h2M196 425.5h2M199 425.5h2M202 425.5h2M205 425.5h2M208 425.5h2M211 425.5h2M214 425.5h2M217 425.5h2M220 425.5h2M223 425.5h2M226 425.5h2M229 425.5h2M232 425.5h2M235 425.5h2M238 425.5h2M241 425.5h2M244 425.5h2M247 425.5h2M250 425.5h2M253 425.5h2M256 425.5h2M259 425.5h2M262 425.5h2M265 425.5h2M268 425.5h2M271 425.5h2M274 425.5h2M277 425.5h2M280 425.5h2M283 425.5h2M286 425.5h2M289 425.5h2M292 425.5h2M295 425.5h2M298 425.5h2M301 425.5h2M304 425.5h2M307 425.5h2M310 425.5h1M313 425.5h2M316 425.5h2M319 425.5h2M322 425.5h2M325 425.5h2M328 425.5h5M334 425.5h2M337 425.5h2M340 425.5h2M343 425.5h2M346 425.5h2M349 425.5h2M352 425.5h2M355 425.5h2M358 425.5h2M361 425.5h2M364 425.5h2M367 425.5h2M370 425.5h2M373 425.5h2M376 425.5h2M382 425.5h2M385 425.5h2M388 425.5h2M391 425.5h2M394 425.5h2M397 425.5h2M400 425.5h2M403 425.5h2M406 425.5h2M409 425.5h2M412 425.5h2M415 425.5h2M418 425.5h2M421 425.5h2M424 425.5h2M427 425.5h2M430 425.5h2M433 425.5h2M436 425.5h2M439 425.5h2M442 425.5h2M445 425.5h2M448 425.5h2M451 425.5h2M454 425.5h2M457 425.5h2M460 425.5h2M463 425.5h2M466 425.5h2M469 425.5h2M472 425.5h2M475 425.5h2M478 425.5h2M481 425.5h2M484 425.5h2M487 425.5h2M490 425.5h2M493 425.5h2M496 425.5h2M499 425.5h2M502 425.5h2M505 425.5h2M508 425.5h2M511 425.5h2M514 425.5h2M517 425.5h2M520 425.5h5M526 425.5h2M529 425.5h2M532 425.5h2M535 425.5h2M538 425.5h1M541 425.5h2M544 425.5h2M547 425.5h2M550 425.5h2M553 425.5h2M556 425.5h2M559 425.5h2M562 425.5h2M565 425.5h2M568 425.5h2M571 425.5h2M574 425.5h2M577 425.5h2M580 425.5h1M53 426.5h1M64 426.5h1M75 426.5h1M139 426.5h1M203 426.5h1M266 426.5h1M330 426.5h1M394 426.5h1M458 426.5h1M522 426.5h1M52 427.5h1M64 427.5h1M51 428.5h1M58 428.5h1M64 428.5h1M75 428.5h1M139 428.5h1M203 428.5h1M266 428.5h1M330 428.5h1M394 428.5h1M458 428.5h1M522 428.5h1M50 429.5h1M58 429.5h2M63 429.5h1M75 429.5h1M139 429.5h1M203 429.5h1M266 429.5h1M330 429.5h1M394 429.5h1M458 429.5h1M522 429.5h1M49 430.5h8M60 430.5h3M75 431.5h1M139 431.5h1M203 431.5h1M266 431.5h1M330 431.5h1M394 431.5h1M458 431.5h1M522 431.5h1M75 432.5h1M139 432.5h1M203 432.5h1M266 432.5h1M330 432.5h1M394 432.5h1M458 432.5h1M522 432.5h1M75 434.5h1M139 434.5h1M203 434.5h1M266 434.5h1M330 434.5h1M394 434.5h1M458 434.5h1M522 434.5h1M75 435.5h1M139 435.5h1M203 435.5h1M266 435.5h1M330 435.5h1M394 435.5h1M458 435.5h1M522 435.5h1M75 437.5h1M139 437.5h1M203 437.5h1M266 437.5h1M330 437.5h1M394 437.5h1M458 437.5h1M522 437.5h1M75 438.5h1M139 438.5h1M203 438.5h1M266 438.5h1M330 438.5h1M394 438.5h1M458 438.5h1M522 438.5h1M71 439.5h5M75 440.5h1M139 440.5h1M203 440.5h1M266 440.5h1M330 440.5h1M394 440.5h1M458 440.5h1M522 440.5h1M75 441.5h1M139 441.5h1M203 441.5h1M266 441.5h1M330 441.5h1M394 441.5h1M458 441.5h1M522 441.5h1M75 443.5h1M139 443.5h1M203 443.5h1M266 443.5h1M330 443.5h1M394 443.5h1M458 443.5h1M522 443.5h1M75 444.5h1M139 444.5h1M203 444.5h1M266 444.5h1M330 444.5h1M394 444.5h1M458 444.5h1M522 444.5h1M75 446.5h1M139 446.5h1M203 446.5h1M266 446.5h1M330 446.5h1M394 446.5h1M458 446.5h1M522 446.5h1M75 447.5h1M139 447.5h1M203 447.5h1M266 447.5h1M330 447.5h1M394 447.5h1M458 447.5h1M522 447.5h1M75 449.5h1M139 449.5h1M203 449.5h1M266 449.5h1M330 449.5h1M394 449.5h1M458 449.5h1M522 449.5h1M75 450.5h1M139 450.5h1M203 450.5h1M266 450.5h1M330 450.5h1M394 450.5h1M458 450.5h1M522 450.5h1M75 452.5h1M139 452.5h1M203 452.5h1M266 452.5h1M330 452.5h1M394 452.5h1M458 452.5h1M522 452.5h1M71 453.5h5M139 453.5h1M203 453.5h1M266 453.5h1M330 453.5h1M394 453.5h1M458 453.5h1M522 453.5h1M75 455.5h1M139 455.5h1M203 455.5h1M266 455.5h1M330 455.5h1M394 455.5h1M458 455.5h1M522 455.5h1M75 456.5h1M139 456.5h1M203 456.5h1M266 456.5h1M330 456.5h1M394 456.5h1M458 456.5h1M522 456.5h1M75 458.5h1M139 458.5h1M203 458.5h1M266 458.5h1M330 458.5h1M394 458.5h1M458 458.5h1M522 458.5h1M75 459.5h1M139 459.5h1M203 459.5h1M266 459.5h1M330 459.5h1M394 459.5h1M458 459.5h1M522 459.5h1M75 461.5h1M139 461.5h1M203 461.5h1M266 461.5h1M330 461.5h1M394 461.5h1M458 461.5h1M522 461.5h1M75 462.5h1M139 462.5h1M203 462.5h1M266 462.5h1M330 462.5h1M394 462.5h1M458 462.5h1M522 462.5h1M75 464.5h1M139 464.5h1M203 464.5h1M266 464.5h1M330 464.5h1M394 464.5h1M458 464.5h1M522 464.5h1M75 465.5h1M139 465.5h1M203 465.5h1M266 465.5h1M330 465.5h1M394 465.5h1M458 465.5h1M522 465.5h1M75 467.5h1M139 467.5h1M203 467.5h1M266 467.5h1M330 467.5h1M394 467.5h1M458 467.5h1M522 467.5h1M71 468.5h5M139 468.5h1M203 468.5h1M266 468.5h1M330 468.5h1M394 468.5h1M458 468.5h1M522 468.5h1M75 470.5h1M139 470.5h1M203 470.5h1M266 470.5h1M330 470.5h1M394 470.5h1M458 470.5h1M522 470.5h1M75 471.5h1M139 471.5h1M203 471.5h1M266 471.5h1M330 471.5h1M394 471.5h1M458 471.5h1M522 471.5h1M75 473.5h1M139 473.5h1M203 473.5h1M266 473.5h1M330 473.5h1M394 473.5h1M458 473.5h1M522 473.5h1M75 474.5h1M139 474.5h1M203 474.5h1M266 474.5h1M330 474.5h1M394 474.5h1M458 474.5h1M522 474.5h1M75 476.5h1M139 476.5h1M203 476.5h1M266 476.5h1M330 476.5h1M394 476.5h1M458 476.5h1M522 476.5h1M75 477.5h1M139 477.5h1M203 477.5h1M266 477.5h1M330 477.5h1M394 477.5h1M458 477.5h1M522 477.5h1M75 479.5h1M139 479.5h1M203 479.5h1M266 479.5h1M330 479.5h1M394 479.5h1M458 479.5h1M522 479.5h1M75 480.5h1M139 480.5h1M203 480.5h1M266 480.5h1M330 480.5h1M394 480.5h1M458 480.5h1M522 480.5h1M71 482.5h5M139 482.5h1M203 482.5h1M266 482.5h1M330 482.5h1M394 482.5h1M458 482.5h1M522 482.5h1M75 483.5h1M139 483.5h1M203 483.5h1M266 483.5h1M330 483.5h1M394 483.5h1M458 483.5h1M522 483.5h1M75 485.5h1M139 485.5h1M203 485.5h1M266 485.5h1M330 485.5h1M394 485.5h1M458 485.5h1M522 485.5h1M75 486.5h1M139 486.5h1M203 486.5h1M266 486.5h1M330 486.5h1M394 486.5h1M458 486.5h1M522 486.5h1M75 488.5h1M139 488.5h1M203 488.5h1M266 488.5h1M330 488.5h1M394 488.5h1M458 488.5h1M522 488.5h1M75 489.5h1M139 489.5h1M203 489.5h1M266 489.5h1M330 489.5h1M394 489.5h1M458 489.5h1M522 489.5h1M51 491.5h3M61 491.5h2M75 491.5h1M139 491.5h1M203 491.5h1M266 491.5h1M330 491.5h1M394 491.5h1M458 491.5h1M522 491.5h1M50 492.5h2M54 492.5h2M60 492.5h1M63 492.5h1M75 492.5h1M139 492.5h1M203 492.5h1M266 492.5h1M330 492.5h1M394 492.5h1M458 492.5h1M522 492.5h1M50 493.5h1M55 493.5h1M59 493.5h1M64 493.5h1M50 494.5h1M55 494.5h1M59 494.5h1M75 494.5h1M139 494.5h1M203 494.5h1M266 494.5h1M330 494.5h1M394 494.5h1M458 494.5h1M522 494.5h1M55 495.5h1M58 495.5h1M60 495.5h4M75 495.5h1M139 495.5h1M203 495.5h1M266 495.5h1M330 495.5h1M394 495.5h1M458 495.5h1M522 495.5h1M54 496.5h1M58 496.5h2M64 496.5h1M71 496.5h10M82 496.5h2M85 496.5h2M88 496.5h2M91 496.5h2M94 496.5h2M97 496.5h2M100 496.5h2M103 496.5h2M106 496.5h2M109 496.5h2M112 496.5h2M115 496.5h2M118 496.5h2M121 496.5h2M124 496.5h2M127 496.5h2M130 496.5h2M133 496.5h2M136 496.5h2M139 496.5h2M142 496.5h2M145 496.5h2M148 496.5h2M151 496.5h2M154 496.5h2M157 496.5h2M160 496.5h2M163 496.5h2M166 496.5h2M169 496.5h2M172 496.5h2M175 496.5h2M178 496.5h2M181 496.5h2M184 496.5h2M187 496.5h2M190 496.5h2M193 496.5h2M196 496.5h2M199 496.5h2M202 496.5h2M205 496.5h2M208 496.5h2M211 496.5h2M214 496.5h2M217 496.5h2M220 496.5h2M223 496.5h2M226 496.5h2M229 496.5h2M232 496.5h2M235 496.5h2M238 496.5h2M241 496.5h2M244 496.5h2M247 496.5h2M250 496.5h2M253 496.5h2M256 496.5h2M259 496.5h2M262 496.5h2M265 496.5h2M268 496.5h2M271 496.5h2M274 496.5h2M277 496.5h2M280 496.5h2M283 496.5h2M286 496.5h2M289 496.5h2M292 496.5h2M295 496.5h2M298 496.5h2M301 496.5h2M304 496.5h2M307 496.5h2M310 496.5h2M313 496.5h2M316 496.5h2M319 496.5h2M322 496.5h2M325 496.5h2M328 496.5h2M331 496.5h2M334 496.5h2M337 496.5h2M340 496.5h2M343 496.5h2M346 496.5h2M349 496.5h2M352 496.5h2M355 496.5h2M358 496.5h2M361 496.5h2M364 496.5h2M367 496.5h2M370 496.5h2M373 496.5h2M377 496.5h1M379 496.5h2M382 496.5h2M385 496.5h2M388 496.5h2M391 496.5h2M394 496.5h2M397 496.5h2M400 496.5h2M403 496.5h2M406 496.5h2M409 496.5h2M412 496.5h2M415 496.5h2M418 496.5h2M421 496.5h2M424 496.5h2M427 496.5h2M430 496.5h2M433 496.5h2M436 496.5h2M440 496.5h1M442 496.5h2M445 496.5h2M448 496.5h2M451 496.5h2M454 496.5h2M457 496.5h2M460 496.5h2M463 496.5h2M466 496.5h2M469 496.5h2M475 496.5h2M478 496.5h2M481 496.5h2M484 496.5h2M487 496.5h1M490 496.5h2M493 496.5h2M496 496.5h2M499 496.5h2M502 496.5h1M506 496.5h1M508 496.5h2M511 496.5h2M514 496.5h2M517 496.5h2M520 496.5h2M523 496.5h2M526 496.5h2M529 496.5h2M532 496.5h2M535 496.5h2M538 496.5h2M541 496.5h2M544 496.5h2M547 496.5h2M550 496.5h2M553 496.5h2M556 496.5h2M559 496.5h2M562 496.5h2M565 496.5h2M568 496.5h2M571 496.5h2M574 496.5h2M577 496.5h2M580 496.5h1M53 497.5h1M58 497.5h1M64 497.5h1M75 497.5h1M139 497.5h1M203 497.5h1M266 497.5h1M330 497.5h1M394 497.5h1M458 497.5h1M522 497.5h1M51 498.5h2M59 498.5h1M64 498.5h1M75 498.5h1M139 498.5h1M203 498.5h1M266 498.5h1M330 498.5h1M394 498.5h1M458 498.5h1M522 498.5h1M50 499.5h1M59 499.5h1M64 499.5h1M49 500.5h8M60 500.5h4M75 500.5h1M139 500.5h1M203 500.5h1M266 500.5h1M330 500.5h1M394 500.5h1M458 500.5h1M522 500.5h1M75 501.5h1M139 501.5h1M203 501.5h1M266 501.5h1M330 501.5h1M394 501.5h1M458 501.5h1M522 501.5h1M75 503.5h1M139 503.5h1M203 503.5h1M266 503.5h1M330 503.5h1M394 503.5h1M458 503.5h1M522 503.5h1M75 504.5h1M139 504.5h1M203 504.5h1M266 504.5h1M330 504.5h1M394 504.5h1M458 504.5h1M522 504.5h1M75 506.5h1M139 506.5h1M203 506.5h1M266 506.5h1M330 506.5h1M394 506.5h1M458 506.5h1M522 506.5h1M75 507.5h1M139 507.5h1M203 507.5h1M266 507.5h1M330 507.5h1M394 507.5h1M458 507.5h1M522 507.5h1M75 509.5h1M139 509.5h1M203 509.5h1M266 509.5h1M330 509.5h1M394 509.5h1M458 509.5h1M522 509.5h1M71 510.5h5M139 510.5h1M203 510.5h1M266 510.5h1M330 510.5h1M394 510.5h1M458 510.5h1M522 510.5h1M75 512.5h1M139 512.5h1M203 512.5h1M266 512.5h1M330 512.5h1M394 512.5h1M458 512.5h1M522 512.5h1M75 513.5h1M139 513.5h1M203 513.5h1M266 513.5h1M330 513.5h1M394 513.5h1M458 513.5h1M522 513.5h1M75 515.5h1M139 515.5h1M203 515.5h1M266 515.5h1M330 515.5h1M394 515.5h1M458 515.5h1M522 515.5h1M75 516.5h1M139 516.5h1M203 516.5h1M266 516.5h1M330 516.5h1M394 516.5h1M458 516.5h1M522 516.5h1M75 518.5h1M139 518.5h1M203 518.5h1M266 518.5h1M330 518.5h1M394 518.5h1M458 518.5h1M522 518.5h1M75 519.5h1M139 519.5h1M203 519.5h1M266 519.5h1M330 519.5h1M394 519.5h1M458 519.5h1M522 519.5h1M75 521.5h1M139 521.5h1M203 521.5h1M266 521.5h1M330 521.5h1M394 521.5h1M458 521.5h1M522 521.5h1M75 522.5h1M139 522.5h1M203 522.5h1M266 522.5h1M330 522.5h1M394 522.5h1M458 522.5h1M522 522.5h1M71 524.5h5M139 524.5h1M203 524.5h1M266 524.5h1M330 524.5h1M394 524.5h1M458 524.5h1M522 524.5h1M75 525.5h1M139 525.5h1M203 525.5h1M266 525.5h1M330 525.5h1M394 525.5h1M458 525.5h1M522 525.5h1M75 527.5h1M139 527.5h1M203 527.5h1M266 527.5h1M330 527.5h1M394 527.5h1M458 527.5h1M522 527.5h1M75 528.5h1M139 528.5h1M203 528.5h1M266 528.5h1M330 528.5h1M394 528.5h1M458 528.5h1M522 528.5h1M75 530.5h1M139 530.5h1M203 530.5h1M266 530.5h1M330 530.5h1M394 530.5h1M458 530.5h1M522 530.5h1M75 531.5h1M139 531.5h1M203 531.5h1M266 531.5h1M330 531.5h1M394 531.5h1M458 531.5h1M522 531.5h1M75 533.5h1M139 533.5h1M203 533.5h1M266 533.5h1M330 533.5h1M394 533.5h1M458 533.5h1M522 533.5h1M75 534.5h1M139 534.5h1M203 534.5h1M266 534.5h1M330 534.5h1M394 534.5h1M458 534.5h1M522 534.5h1M75 536.5h1M139 536.5h1M203 536.5h1M266 536.5h1M330 536.5h1M394 536.5h1M458 536.5h1M522 536.5h1M75 537.5h1M139 537.5h1M203 537.5h1M266 537.5h1M330 537.5h1M394 537.5h1M458 537.5h1M522 537.5h1M71 538.5h5M75 539.5h1M139 539.5h1M203 539.5h1M266 539.5h1M330 539.5h1M394 539.5h1M458 539.5h1M522 539.5h1M75 540.5h1M139 540.5h1M203 540.5h1M266 540.5h1M330 540.5h1M394 540.5h1M458 540.5h1M522 540.5h1M75 542.5h1M139 542.5h1M203 542.5h1M266 542.5h1M330 542.5h1M394 542.5h1M458 542.5h1M522 542.5h1M75 543.5h1M139 543.5h1M203 543.5h1M266 543.5h1M330 543.5h1M394 543.5h1M458 543.5h1M522 543.5h1M75 545.5h1M139 545.5h1M203 545.5h1M266 545.5h1M330 545.5h1M394 545.5h1M458 545.5h1M75 546.5h1M139 546.5h1M203 546.5h1M266 546.5h1M330 546.5h1M394 546.5h1M458 546.5h1M522 546.5h1M75 548.5h1M139 548.5h1M203 548.5h1M266 548.5h1M330 548.5h1M394 548.5h1M458 548.5h1M522 548.5h1M75 549.5h1M139 549.5h1M203 549.5h1M266 549.5h1M330 549.5h1M394 549.5h1M458 549.5h1M522 549.5h1M75 551.5h1M139 551.5h1M203 551.5h1M266 551.5h1M330 551.5h1M458 551.5h1M75 552.5h1M139 552.5h1M203 552.5h1M266 552.5h1M330 552.5h1M394 552.5h1M458 552.5h1M522 552.5h1M71 553.5h5M75 554.5h1M139 554.5h1M203 554.5h1M266 554.5h1M394 554.5h1M458 554.5h1M522 554.5h1M75 555.5h1M139 555.5h1M203 555.5h1M266 555.5h1M330 555.5h1M394 555.5h1M458 555.5h1M522 555.5h1M75 557.5h1M139 557.5h1M203 557.5h1M266 557.5h1M330 557.5h1M394 557.5h1M458 557.5h1M522 557.5h1M75 558.5h1M139 558.5h1M203 558.5h1M266 558.5h1M330 558.5h1M394 558.5h1M458 558.5h1M522 558.5h1M75 560.5h1M139 560.5h1M203 560.5h1M266 560.5h1M330 560.5h1M458 560.5h1M522 560.5h1M75 561.5h1M139 561.5h1M203 561.5h1M266 561.5h1M330 561.5h1M394 561.5h1M458 561.5h1M522 561.5h1M51 562.5h3M58 562.5h7M50 563.5h2M54 563.5h2M64 563.5h1M75 563.5h1M139 563.5h1M203 563.5h1M266 563.5h1M458 563.5h1M522 563.5h1M50 564.5h1M55 564.5h1M63 564.5h1M75 564.5h1M139 564.5h1M203 564.5h1M266 564.5h1M330 564.5h1M394 564.5h1M458 564.5h1M522 564.5h1M55 565.5h1M63 565.5h1M55 566.5h1M62 566.5h1M75 566.5h1M139 566.5h1M203 566.5h1M266 566.5h1M330 566.5h1M394 566.5h1M458 566.5h1M522 566.5h1M54 567.5h1M62 567.5h1M71 567.5h10M82 567.5h2M85 567.5h2M88 567.5h2M91 567.5h2M94 567.5h2M97 567.5h2M100 567.5h2M103 567.5h2M106 567.5h2M109 567.5h2M112 567.5h2M115 567.5h2M118 567.5h2M121 567.5h2M124 567.5h2M127 567.5h2M130 567.5h2M133 567.5h2M136 567.5h2M139 567.5h2M142 567.5h2M145 567.5h2M148 567.5h2M151 567.5h2M154 567.5h2M157 567.5h2M160 567.5h2M163 567.5h2M166 567.5h2M169 567.5h2M172 567.5h2M175 567.5h2M178 567.5h2M181 567.5h2M184 567.5h2M187 567.5h2M190 567.5h2M193 567.5h2M196 567.5h2M199 567.5h2M202 567.5h2M205 567.5h2M208 567.5h2M211 567.5h2M214 567.5h2M217 567.5h2M220 567.5h2M223 567.5h2M226 567.5h2M229 567.5h2M232 567.5h2M235 567.5h2M238 567.5h2M241 567.5h2M244 567.5h2M247 567.5h2M250 567.5h2M253 567.5h2M256 567.5h2M259 567.5h2M262 567.5h2M265 567.5h2M268 567.5h2M271 567.5h2M274 567.5h2M277 567.5h2M280 567.5h2M283 567.5h2M286 567.5h2M289 567.5h2M292 567.5h2M295 567.5h2M298 567.5h2M301 567.5h2M304 567.5h2M307 567.5h2M310 567.5h2M313 567.5h2M316 567.5h2M319 567.5h2M322 567.5h2M325 567.5h2M328 567.5h5M335 567.5h1M337 567.5h2M340 567.5h2M343 567.5h2M346 567.5h2M349 567.5h2M352 567.5h2M355 567.5h2M358 567.5h2M361 567.5h2M364 567.5h2M367 567.5h2M370 567.5h2M373 567.5h1M376 567.5h2M379 567.5h2M382 567.5h2M385 567.5h2M388 567.5h2M391 567.5h2M394 567.5h2M397 567.5h2M400 567.5h2M403 567.5h2M407 567.5h1M409 567.5h2M412 567.5h2M415 567.5h2M418 567.5h2M421 567.5h2M424 567.5h2M427 567.5h2M430 567.5h2M433 567.5h2M437 567.5h1M439 567.5h2M442 567.5h2M445 567.5h2M448 567.5h2M451 567.5h2M455 567.5h1M457 567.5h2M460 567.5h2M463 567.5h2M466 567.5h2M469 567.5h2M472 567.5h2M475 567.5h2M478 567.5h2M481 567.5h2M484 567.5h2M487 567.5h2M490 567.5h2M493 567.5h2M497 567.5h1M499 567.5h2M502 567.5h2M505 567.5h1M508 567.5h2M511 567.5h2M514 567.5h2M517 567.5h2M520 567.5h5M526 567.5h2M529 567.5h2M532 567.5h2M535 567.5h2M539 567.5h1M541 567.5h2M544 567.5h2M547 567.5h2M550 567.5h2M553 567.5h2M556 567.5h2M559 567.5h2M562 567.5h2M565 567.5h2M568 567.5h2M571 567.5h2M574 567.5h2M577 567.5h2M580 567.5h1M53 568.5h1M61 568.5h1M51 569.5h2M61 569.5h1M75 569.5h1M139 569.5h1M203 569.5h1M266 569.5h1M330 569.5h1M394 569.5h1M458 569.5h1M522 569.5h1M50 570.5h1M60 570.5h1M75 570.5h1M139 570.5h1M203 570.5h1M266 570.5h1M330 570.5h1M394 570.5h1M522 570.5h1M49 571.5h8M60 571.5h1M75 572.5h1M139 572.5h1M203 572.5h1M266 572.5h1M330 572.5h1M394 572.5h1M458 572.5h1M522 572.5h1M75 573.5h1M139 573.5h1M203 573.5h1M266 573.5h1M330 573.5h1M394 573.5h1M458 573.5h1M522 573.5h1M75 575.5h1M139 575.5h1M203 575.5h1M266 575.5h1M330 575.5h1M394 575.5h1M458 575.5h1M522 575.5h1M75 576.5h1M139 576.5h1M203 576.5h1M266 576.5h1M330 576.5h1M394 576.5h1M458 576.5h1M522 576.5h1M75 578.5h1M139 578.5h1M203 578.5h1M266 578.5h1M330 578.5h1M458 578.5h1M522 578.5h1M75 579.5h1M139 579.5h1M203 579.5h1M266 579.5h1M330 579.5h1M394 579.5h1M458 579.5h1M522 579.5h1M71 581.5h5M139 581.5h1M203 581.5h1M266 581.5h1M330 581.5h1M394 581.5h1M458 581.5h1M522 581.5h1M75 582.5h1M139 582.5h1M203 582.5h1M266 582.5h1M330 582.5h1M394 582.5h1M458 582.5h1M522 582.5h1M75 584.5h1M139 584.5h1M203 584.5h1M266 584.5h1M330 584.5h1M394 584.5h1M458 584.5h1M522 584.5h1M75 585.5h1M139 585.5h1M203 585.5h1M266 585.5h1M330 585.5h1M394 585.5h1M458 585.5h1M75 587.5h1M139 587.5h1M203 587.5h1M266 587.5h1M330 587.5h1M394 587.5h1M458 587.5h1M522 587.5h1M75 588.5h1M139 588.5h1M203 588.5h1M266 588.5h1M330 588.5h1M394 588.5h1M458 588.5h1M522 588.5h1M75 590.5h1M139 590.5h1M203 590.5h1M266 590.5h1M330 590.5h1M394 590.5h1M458 590.5h1M522 590.5h1M75 591.5h1M139 591.5h1M203 591.5h1M266 591.5h1M330 591.5h1M394 591.5h1M458 591.5h1M522 591.5h1M75 593.5h1M139 593.5h1M203 593.5h1M266 593.5h1M330 593.5h1M458 593.5h1M522 593.5h1M75 594.5h1M139 594.5h1M203 594.5h1M266 594.5h1M330 594.5h1M394 594.5h1M458 594.5h1M522 594.5h1M71 595.5h5M75 596.5h1M139 596.5h1M203 596.5h1M266 596.5h1M330 596.5h1M394 596.5h1M458 596.5h1M522 596.5h1M75 597.5h1M139 597.5h1M203 597.5h1M266 597.5h1M330 597.5h1M394 597.5h1M522 597.5h1M75 599.5h1M139 599.5h1M203 599.5h1M266 599.5h1M330 599.5h1M394 599.5h1M458 599.5h1M522 599.5h1M75 600.5h1M139 600.5h1M203 600.5h1M266 600.5h1M330 600.5h1M394 600.5h1M458 600.5h1M522 600.5h1M75 602.5h1M139 602.5h1M203 602.5h1M266 602.5h1M330 602.5h1M394 602.5h1M458 602.5h1M522 602.5h1M75 603.5h1M139 603.5h1M203 603.5h1M266 603.5h1M330 603.5h1M394 603.5h1M458 603.5h1M522 603.5h1M75 605.5h1M139 605.5h1M203 605.5h1M266 605.5h1M330 605.5h1M394 605.5h1M458 605.5h1M522 605.5h1M75 606.5h1M139 606.5h1M203 606.5h1M266 606.5h1M330 606.5h1M394 606.5h1M458 606.5h1M522 606.5h1M75 608.5h1M139 608.5h1M203 608.5h1M266 608.5h1M330 608.5h1M394 608.5h1M458 608.5h1M522 608.5h1M71 609.5h5M139 609.5h1M203 609.5h1M266 609.5h1M330 609.5h1M394 609.5h1M458 609.5h1M522 609.5h1M75 611.5h1M139 611.5h1M203 611.5h1M266 611.5h1M330 611.5h1M394 611.5h1M458 611.5h1M522 611.5h1M75 612.5h1M139 612.5h1M203 612.5h1M266 612.5h1M330 612.5h1M394 612.5h1M458 612.5h1M522 612.5h1M75 614.5h1M139 614.5h1M203 614.5h1M266 614.5h1M330 614.5h1M394 614.5h1M458 614.5h1M522 614.5h1M75 615.5h1M139 615.5h1M203 615.5h1M266 615.5h1M330 615.5h1M394 615.5h1M458 615.5h1M522 615.5h1M75 617.5h1M139 617.5h1M203 617.5h1M266 617.5h1M330 617.5h1M394 617.5h1M458 617.5h1M522 617.5h1M75 618.5h1M139 618.5h1M203 618.5h1M266 618.5h1M330 618.5h1M394 618.5h1M458 618.5h1M522 618.5h1M75 620.5h1M139 620.5h1M203 620.5h1M266 620.5h1M330 620.5h1M394 620.5h1M458 620.5h1M522 620.5h1M75 621.5h1M139 621.5h1M203 621.5h1M266 621.5h1M330 621.5h1M394 621.5h1M458 621.5h1M522 621.5h1M75 623.5h1M139 623.5h1M203 623.5h1M266 623.5h1M330 623.5h1M394 623.5h1M458 623.5h1M522 623.5h1M71 624.5h5M139 624.5h1M203 624.5h1M266 624.5h1M330 624.5h1M394 624.5h1M458 624.5h1M522 624.5h1M75 626.5h1M139 626.5h1M203 626.5h1M266 626.5h1M330 626.5h1M394 626.5h1M458 626.5h1M522 626.5h1M75 627.5h1M139 627.5h1M203 627.5h1M266 627.5h1M330 627.5h1M394 627.5h1M458 627.5h1M522 627.5h1M75 629.5h1M139 629.5h1M203 629.5h1M266 629.5h1M330 629.5h1M394 629.5h1M458 629.5h1M522 629.5h1M75 630.5h1M139 630.5h1M203 630.5h1M266 630.5h1M330 630.5h1M394 630.5h1M458 630.5h1M522 630.5h1M75 631.5h1M139 631.5h1M203 631.5h1M266 631.5h1M330 631.5h1M394 631.5h1M458 631.5h1M522 631.5h1M75 632.5h1M139 632.5h1M203 632.5h1M266 632.5h1M330 632.5h1M394 632.5h1M458 632.5h1M522 632.5h1M51 633.5h3M60 633.5h3M75 633.5h1M88 633.5h1M100 633.5h1M113 633.5h1M126 633.5h1M139 633.5h1M151 633.5h1M164 633.5h1M177 633.5h1M190 633.5h1M203 633.5h1M215 633.5h1M228 633.5h1M241 633.5h1M254 633.5h1M266 633.5h1M279 633.5h1M292 633.5h1M305 633.5h1M317 633.5h1M330 633.5h1M343 633.5h1M356 633.5h1M369 633.5h1M381 633.5h1M394 633.5h1M407 633.5h1M420 633.5h1M432 633.5h1M445 633.5h1M458 633.5h1M471 633.5h1M483 633.5h1M496 633.5h1M509 633.5h1M522 633.5h1M534 633.5h1M547 633.5h1M560 633.5h1M573 633.5h1M50 634.5h2M54 634.5h2M58 634.5h2M63 634.5h2M75 634.5h1M88 634.5h1M100 634.5h1M113 634.5h1M126 634.5h1M139 634.5h1M151 634.5h1M164 634.5h1M177 634.5h1M190 634.5h1M203 634.5h1M215 634.5h1M228 634.5h1M241 634.5h1M254 634.5h1M266 634.5h1M279 634.5h1M292 634.5h1M305 634.5h1M317 634.5h1M330 634.5h1M343 634.5h1M356 634.5h1M369 634.5h1M381 634.5h1M394 634.5h1M407 634.5h1M420 634.5h1M432 634.5h1M445 634.5h1M458 634.5h1M471 634.5h1M483 634.5h1M496 634.5h1M509 634.5h1M522 634.5h1M534 634.5h1M547 634.5h1M560 634.5h1M573 634.5h1M50 635.5h1M55 635.5h1M58 635.5h1M64 635.5h1M75 635.5h1M88 635.5h1M100 635.5h1M113 635.5h1M126 635.5h1M139 635.5h1M151 635.5h1M164 635.5h1M177 635.5h1M190 635.5h1M203 635.5h1M215 635.5h1M228 635.5h1M241 635.5h1M254 635.5h1M266 635.5h1M279 635.5h1M292 635.5h1M305 635.5h1M317 635.5h1M330 635.5h1M343 635.5h1M356 635.5h1M369 635.5h1M381 635.5h1M394 635.5h1M407 635.5h1M420 635.5h1M432 635.5h1M445 635.5h1M458 635.5h1M471 635.5h1M483 635.5h1M496 635.5h1M509 635.5h1M522 635.5h1M534 635.5h1M547 635.5h1M560 635.5h1M573 635.5h1M55 636.5h1M59 636.5h1M63 636.5h1M75 636.5h1M88 636.5h1M100 636.5h1M113 636.5h1M126 636.5h1M139 636.5h1M151 636.5h1M164 636.5h1M177 636.5h1M190 636.5h1M203 636.5h1M215 636.5h1M228 636.5h1M241 636.5h1M254 636.5h1M266 636.5h1M279 636.5h1M292 636.5h1M305 636.5h1M317 636.5h1M330 636.5h1M343 636.5h1M356 636.5h1M369 636.5h1M381 636.5h1M394 636.5h1M407 636.5h1M420 636.5h1M432 636.5h1M445 636.5h1M458 636.5h1M471 636.5h1M483 636.5h1M496 636.5h1M509 636.5h1M522 636.5h1M534 636.5h1M547 636.5h1M560 636.5h1M573 636.5h1M55 637.5h1M59 637.5h5M75 637.5h1M88 637.5h1M100 637.5h1M113 637.5h1M126 637.5h1M139 637.5h1M151 637.5h1M164 637.5h1M177 637.5h1M190 637.5h1M203 637.5h1M215 637.5h1M228 637.5h1M241 637.5h1M254 637.5h1M266 637.5h1M279 637.5h1M292 637.5h1M305 637.5h1M317 637.5h1M330 637.5h1M343 637.5h1M356 637.5h1M369 637.5h1M381 637.5h1M394 637.5h1M407 637.5h1M420 637.5h1M432 637.5h1M445 637.5h1M458 637.5h1M471 637.5h1M483 637.5h1M496 637.5h1M509 637.5h1M522 637.5h1M534 637.5h1M547 637.5h1M560 637.5h1M573 637.5h1M54 638.5h1M58 638.5h1M64 638.5h1M75 638.5h1M88 638.5h1M100 638.5h1M113 638.5h1M126 638.5h1M139 638.5h1M151 638.5h1M164 638.5h1M177 638.5h1M190 638.5h1M203 638.5h1M215 638.5h1M228 638.5h1M241 638.5h1M254 638.5h1M266 638.5h1M279 638.5h1M292 638.5h1M305 638.5h1M317 638.5h1M330 638.5h1M343 638.5h1M356 638.5h1M369 638.5h1M381 638.5h1M394 638.5h1M407 638.5h1M420 638.5h1M432 638.5h1M445 638.5h1M458 638.5h1M471 638.5h1M483 638.5h1M496 638.5h1M509 638.5h1M522 638.5h1M534 638.5h1M547 638.5h1M560 638.5h1M573 638.5h1M53 639.5h1M58 639.5h1M64 639.5h1M51 640.5h2M58 640.5h1M64 640.5h1M50 641.5h1M58 641.5h1M64 641.5h1M49 642.5h8M59 642.5h5M81 643.5h1M136 643.5h5M149 643.5h5M201 643.5h5M258 643.5h4M270 643.5h6M330 643.5h1M388 643.5h1M398 643.5h6M456 643.5h5M514 643.5h4M526 643.5h6M80 644.5h2M136 644.5h1M141 644.5h1M149 644.5h1M201 644.5h1M206 644.5h1M258 644.5h1M262 644.5h1M270 644.5h1M329 644.5h2M387 644.5h2M398 644.5h1M456 644.5h1M460 644.5h1M513 644.5h1M518 644.5h1M526 644.5h1M79 645.5h1M81 645.5h1M135 645.5h1M141 645.5h1M149 645.5h1M200 645.5h1M206 645.5h1M257 645.5h1M262 645.5h1M270 645.5h1M328 645.5h1M330 645.5h1M386 645.5h1M388 645.5h1M398 645.5h1M455 645.5h1M461 645.5h1M513 645.5h1M518 645.5h1M526 645.5h1M81 646.5h1M135 646.5h1M141 646.5h1M148 646.5h6M200 646.5h1M206 646.5h1M257 646.5h1M263 646.5h1M270 646.5h5M330 646.5h1M388 646.5h1M398 646.5h5M460 646.5h2M518 646.5h1M526 646.5h5M81 647.5h1M135 647.5h1M141 647.5h1M148 647.5h1M154 647.5h1M200 647.5h1M206 647.5h1M256 647.5h1M263 647.5h1M270 647.5h1M275 647.5h1M330 647.5h1M388 647.5h1M398 647.5h1M403 647.5h1M460 647.5h1M518 647.5h1M526 647.5h1M531 647.5h1M66 648.5h10M81 648.5h1M124 648.5h9M135 648.5h1M141 648.5h1M154 648.5h1M200 648.5h1M206 648.5h1M256 648.5h1M263 648.5h1M276 648.5h1M330 648.5h1M388 648.5h1M404 648.5h1M459 648.5h1M517 648.5h1M532 648.5h1M81 649.5h1M135 649.5h1M141 649.5h1M154 649.5h1M200 649.5h1M206 649.5h1M257 649.5h1M263 649.5h1M276 649.5h1M330 649.5h1M388 649.5h1M404 649.5h1M458 649.5h1M516 649.5h1M532 649.5h1M81 650.5h1M135 650.5h1M141 650.5h1M148 650.5h1M154 650.5h1M200 650.5h1M206 650.5h1M257 650.5h1M262 650.5h1M269 650.5h1M276 650.5h1M330 650.5h1M388 650.5h1M397 650.5h1M404 650.5h1M457 650.5h1M514 650.5h2M525 650.5h1M532 650.5h1M81 651.5h1M136 651.5h1M141 651.5h1M145 651.5h1M148 651.5h1M154 651.5h1M201 651.5h1M206 651.5h1M258 651.5h1M262 651.5h1M266 651.5h1M270 651.5h1M275 651.5h1M330 651.5h1M388 651.5h1M394 651.5h1M398 651.5h1M403 651.5h1M456 651.5h1M513 651.5h1M522 651.5h1M526 651.5h1M531 651.5h1M81 652.5h1M136 652.5h5M144 652.5h2M149 652.5h5M201 652.5h5M258 652.5h4M266 652.5h1M270 652.5h5M330 652.5h1M388 652.5h1M394 652.5h1M398 652.5h5M455 652.5h7M512 652.5h8M522 652.5h1M526 652.5h5" stroke="#0000ff" stroke-width="1" fill="none"/>
<path d="M313 70.5h1M313 71.5h1M28 72.5h3M313 72.5h1M31 73.5h4M147 73.5h1M246 73.5h1M314 73.5h1M348 73.5h1M379 73.5h1M35 74.5h5M148 74.5h2M210 74.5h1M247 74.5h2M284 74.5h1M308 74.5h2M314 74.5h1M347 74.5h1M378 74.5h1M40 75.5h3M150 75.5h2M211 75.5h1M249 75.5h2M282 75.5h2M310 75.5h3M314 75.5h1M346 75.5h1M376 75.5h2M37 76.5h4M152 76.5h2M212 76.5h2M251 76.5h1M280 76.5h2M313 76.5h2M346 76.5h1M375 76.5h1M34 77.5h3M151 77.5h2M190 77.5h2M214 77.5h1M249 77.5h2M279 77.5h1M345 77.5h1M374 77.5h4M30 78.5h4M149 78.5h2M188 78.5h2M214 78.5h2M247 78.5h2M280 78.5h2M344 78.5h3M375 78.5h2M28 79.5h3M147 79.5h2M186 79.5h2M211 79.5h3M245 79.5h2M282 79.5h2M347 79.5h4M377 79.5h2M31 80.5h4M187 80.5h1M209 80.5h2M284 80.5h1M379 80.5h1M35 81.5h5M188 81.5h1M40 82.5h3M126 82.5h8M138 82.5h3M189 82.5h1M37 83.5h4M112 83.5h1M117 83.5h1M123 83.5h1M126 83.5h1M136 83.5h2M141 83.5h1M190 83.5h1M34 84.5h3M112 84.5h1M117 84.5h1M123 84.5h1M126 84.5h1M135 84.5h1M142 84.5h1M30 85.5h4M113 85.5h1M117 85.5h2M122 85.5h1M126 85.5h1M135 85.5h1M142 85.5h1M28 86.5h2M113 86.5h1M116 86.5h1M118 86.5h1M122 86.5h1M126 86.5h1M141 86.5h1M113 87.5h1M116 87.5h1M118 87.5h1M122 87.5h1M126 87.5h5M141 87.5h1M114 88.5h1M116 88.5h1M119 88.5h1M121 88.5h1M126 88.5h1M140 88.5h1M37 89.5h2M114 89.5h1M116 89.5h1M119 89.5h1M121 89.5h1M126 89.5h1M139 89.5h1M28 90.5h1M35 90.5h2M39 90.5h2M114 90.5h2M119 90.5h1M121 90.5h1M126 90.5h1M138 90.5h1M28 91.5h1M33 91.5h2M41 91.5h1M115 91.5h1M120 91.5h1M126 91.5h1M137 91.5h1M28 92.5h1M33 92.5h1M42 92.5h1M115 92.5h1M120 92.5h1M126 92.5h1M136 92.5h1M28 93.5h1M33 93.5h1M42 93.5h1M126 93.5h1M135 93.5h8M28 94.5h1M33 94.5h1M42 94.5h1M28 95.5h1M33 95.5h1M42 95.5h1M28 96.5h1M33 96.5h1M42 96.5h1M28 97.5h3M33 97.5h1M41 97.5h1M31 98.5h4M41 98.5h1M39 99.5h2M37 102.5h2M35 103.5h2M39 103.5h2M28 104.5h1M33 104.5h2M41 104.5h1M190 104.5h1M220 104.5h1M315 104.5h1M28 105.5h1M33 105.5h1M41 105.5h1M188 105.5h2M220 105.5h1M315 105.5h1M336 105.5h1M441 105.5h1M28 106.5h1M33 106.5h1M42 106.5h1M186 106.5h2M220 106.5h1M315 106.5h1M337 106.5h2M439 106.5h2M28 107.5h1M33 107.5h1M42 107.5h1M185 107.5h1M221 107.5h1M316 107.5h1M339 107.5h2M437 107.5h3M28 108.5h1M33 108.5h1M42 108.5h1M186 108.5h2M215 108.5h2M221 108.5h1M310 108.5h2M316 108.5h1M341 108.5h1M416 108.5h1M436 108.5h3M28 109.5h1M33 109.5h1M42 109.5h1M188 109.5h2M217 109.5h3M221 109.5h1M249 109.5h1M312 109.5h3M316 109.5h1M339 109.5h2M415 109.5h1M437 109.5h2M28 110.5h1M33 110.5h1M42 110.5h1M190 110.5h1M220 110.5h2M250 110.5h2M280 110.5h1M286 110.5h1M315 110.5h2M337 110.5h2M381 110.5h1M414 110.5h1M439 110.5h2M28 111.5h7M41 111.5h1M156 111.5h3M252 111.5h2M281 111.5h1M285 111.5h1M336 111.5h1M379 111.5h2M414 111.5h1M441 111.5h1M39 112.5h2M156 112.5h1M159 112.5h4M254 112.5h1M281 112.5h1M285 112.5h1M377 112.5h2M413 112.5h1M156 113.5h1M252 113.5h2M282 113.5h1M284 113.5h1M376 113.5h1M412 113.5h3M156 114.5h1M250 114.5h2M282 114.5h1M284 114.5h1M377 114.5h2M415 114.5h4M156 115.5h1M249 115.5h1M283 115.5h1M379 115.5h2M37 116.5h2M156 116.5h1M381 116.5h1M28 117.5h1M35 117.5h2M39 117.5h2M156 117.5h1M28 118.5h1M33 118.5h2M41 118.5h1M28 119.5h1M33 119.5h1M42 119.5h1M28 120.5h1M33 120.5h1M42 120.5h1M28 121.5h1M33 121.5h1M42 121.5h1M28 122.5h1M33 122.5h1M42 122.5h1M28 123.5h1M33 123.5h1M42 123.5h1M28 124.5h3M33 124.5h1M41 124.5h1M31 125.5h4M41 125.5h1M39 126.5h2M28 128.5h1M28 129.5h1M28 130.5h1M28 131.5h1M28 132.5h1M35 132.5h1M28 133.5h1M35 133.5h1M28 134.5h1M35 134.5h1M28 135.5h1M35 135.5h1M28 136.5h1M35 136.5h1M28 137.5h15M224 139.5h1M184 140.5h1M191 140.5h1M222 140.5h2M308 140.5h1M185 141.5h1M190 141.5h1M220 141.5h2M309 141.5h1M186 142.5h1M190 142.5h1M219 142.5h1M288 142.5h2M310 142.5h2M339 142.5h1M346 142.5h1M186 143.5h1M189 143.5h1M220 143.5h2M285 143.5h3M312 143.5h1M340 143.5h1M345 143.5h1M408 143.5h1M187 144.5h1M189 144.5h1M222 144.5h2M283 144.5h2M313 144.5h1M341 144.5h1M345 144.5h1M376 144.5h2M408 144.5h2M479 144.5h1M188 145.5h1M224 145.5h1M244 145.5h2M284 145.5h1M311 145.5h2M341 145.5h1M344 145.5h1M374 145.5h2M377 145.5h1M407 145.5h1M410 145.5h1M477 145.5h2M246 146.5h3M285 146.5h1M309 146.5h2M342 146.5h1M344 146.5h1M372 146.5h2M377 146.5h1M407 146.5h1M410 146.5h1M475 146.5h2M506 146.5h1M154 147.5h1M249 147.5h2M286 147.5h1M308 147.5h1M343 147.5h1M377 147.5h1M406 147.5h1M411 147.5h1M474 147.5h1M504 147.5h2M152 148.5h2M249 148.5h1M287 148.5h1M377 148.5h1M406 148.5h1M412 148.5h1M475 148.5h2M502 148.5h2M150 149.5h2M247 149.5h2M377 149.5h1M444 149.5h3M477 149.5h2M501 149.5h6M149 150.5h1M246 150.5h1M377 150.5h1M440 150.5h4M479 150.5h1M502 150.5h2M150 151.5h2M245 151.5h1M441 151.5h1M504 151.5h2M152 152.5h2M442 152.5h1M506 152.5h1M154 153.5h1M442 153.5h1M443 154.5h1M444 155.5h1M471 174.5h1M183 175.5h1M190 175.5h1M255 175.5h2M376 175.5h1M471 175.5h1M540 175.5h1M184 176.5h1M189 176.5h1M252 176.5h3M377 176.5h1M403 176.5h1M472 176.5h1M539 176.5h1M566 176.5h1M185 177.5h1M189 177.5h1M218 177.5h1M250 177.5h2M308 177.5h1M350 177.5h1M377 177.5h1M404 177.5h2M472 177.5h1M537 177.5h2M565 177.5h1M185 178.5h1M188 178.5h1M217 178.5h1M219 178.5h1M251 178.5h1M275 178.5h2M309 178.5h1M349 178.5h1M378 178.5h1M406 178.5h2M472 178.5h1M536 178.5h1M563 178.5h2M186 179.5h1M188 179.5h1M216 179.5h1M219 179.5h1M252 179.5h1M277 179.5h2M310 179.5h1M347 179.5h2M378 179.5h1M408 179.5h2M442 179.5h2M467 179.5h3M473 179.5h1M535 179.5h2M562 179.5h1M187 180.5h1M216 180.5h1M220 180.5h1M253 180.5h1M279 180.5h2M311 180.5h1M346 180.5h1M379 180.5h1M407 180.5h2M439 180.5h3M443 180.5h1M470 180.5h4M511 180.5h2M537 180.5h2M561 180.5h5M158 181.5h1M215 181.5h1M220 181.5h1M254 181.5h1M279 181.5h1M310 181.5h3M345 181.5h1M373 181.5h7M405 181.5h2M437 181.5h2M443 181.5h1M508 181.5h3M539 181.5h2M562 181.5h2M156 182.5h2M214 182.5h1M221 182.5h1M277 182.5h2M306 182.5h4M346 182.5h2M403 182.5h2M443 182.5h1M506 182.5h2M564 182.5h2M154 183.5h3M276 183.5h1M348 183.5h2M442 183.5h1M507 183.5h1M566 183.5h1M153 184.5h2M275 184.5h1M350 184.5h1M442 184.5h1M508 184.5h1M154 185.5h2M442 185.5h1M509 185.5h1M156 186.5h2M510 186.5h1M158 187.5h1M215 210.5h1M221 210.5h1M216 211.5h1M220 211.5h1M320 211.5h1M373 211.5h1M467 211.5h1M474 211.5h1M507 211.5h2M161 212.5h1M216 212.5h1M220 212.5h1M319 212.5h1M338 212.5h1M374 212.5h1M435 212.5h1M468 212.5h1M473 212.5h1M505 212.5h2M159 213.5h2M217 213.5h1M219 213.5h1M317 213.5h2M339 213.5h2M375 213.5h2M436 213.5h1M469 213.5h1M473 213.5h1M503 213.5h2M157 214.5h2M217 214.5h1M219 214.5h1M245 214.5h7M316 214.5h1M341 214.5h2M377 214.5h1M437 214.5h1M469 214.5h1M472 214.5h1M504 214.5h1M155 215.5h2M177 215.5h3M218 215.5h1M250 215.5h1M315 215.5h2M343 215.5h2M377 215.5h2M438 215.5h1M470 215.5h1M472 215.5h1M505 215.5h2M571 215.5h1M156 216.5h2M180 216.5h4M250 216.5h1M279 216.5h2M317 216.5h3M342 216.5h2M374 216.5h3M406 216.5h1M438 216.5h2M471 216.5h1M507 216.5h1M569 216.5h2M158 217.5h2M182 217.5h1M249 217.5h1M279 217.5h1M281 217.5h3M320 217.5h2M340 217.5h2M372 217.5h2M407 217.5h2M435 217.5h3M508 217.5h1M544 217.5h1M567 217.5h2M160 218.5h1M182 218.5h1M249 218.5h1M279 218.5h1M284 218.5h2M338 218.5h2M409 218.5h2M433 218.5h2M542 218.5h2M565 218.5h2M181 219.5h1M248 219.5h1M280 219.5h1M411 219.5h1M540 219.5h2M566 219.5h2M181 220.5h1M280 220.5h1M409 220.5h2M539 220.5h1M568 220.5h2M180 221.5h1M280 221.5h1M407 221.5h2M540 221.5h2M570 221.5h1M280 222.5h1M406 222.5h1M542 222.5h2M544 223.5h1M501 244.5h1M441 245.5h1M502 245.5h1M218 246.5h1M442 246.5h1M503 246.5h1M218 247.5h1M309 247.5h1M316 247.5h1M442 247.5h1M503 247.5h1M156 248.5h1M218 248.5h1M310 248.5h1M315 248.5h1M443 248.5h1M504 248.5h1M155 249.5h1M219 249.5h1M311 249.5h1M315 249.5h1M345 249.5h1M443 249.5h1M502 249.5h4M538 249.5h1M573 249.5h2M154 250.5h1M186 250.5h1M213 250.5h2M219 250.5h1M284 250.5h7M311 250.5h1M314 250.5h1M346 250.5h1M412 250.5h1M437 250.5h4M444 250.5h1M498 250.5h4M537 250.5h1M539 250.5h1M570 250.5h3M153 251.5h1M184 251.5h2M215 251.5h3M219 251.5h1M284 251.5h1M312 251.5h1M314 251.5h1M346 251.5h1M410 251.5h2M441 251.5h4M536 251.5h1M540 251.5h1M568 251.5h2M152 252.5h2M182 252.5h2M218 252.5h2M285 252.5h1M313 252.5h1M347 252.5h1M408 252.5h2M468 252.5h2M535 252.5h1M540 252.5h1M569 252.5h1M154 253.5h3M181 253.5h1M285 253.5h1M347 253.5h1M407 253.5h1M465 253.5h3M469 253.5h1M534 253.5h1M541 253.5h1M570 253.5h2M157 254.5h2M182 254.5h2M246 254.5h1M286 254.5h1M341 254.5h8M408 254.5h2M463 254.5h2M469 254.5h1M572 254.5h1M184 255.5h2M247 255.5h1M286 255.5h1M410 255.5h2M469 255.5h1M573 255.5h1M186 256.5h1M248 256.5h2M412 256.5h1M468 256.5h1M250 257.5h1M468 257.5h1M250 258.5h2M468 258.5h1M248 259.5h2M371 259.5h7M246 260.5h2M376 260.5h1M376 261.5h1M375 262.5h1M375 263.5h1M374 264.5h1M433 281.5h1M154 282.5h1M413 282.5h2M434 282.5h2M153 283.5h1M283 283.5h1M410 283.5h3M436 283.5h2M533 283.5h1M153 284.5h1M221 284.5h1M282 284.5h1M284 284.5h1M408 284.5h2M438 284.5h1M534 284.5h1M570 284.5h1M152 285.5h1M196 285.5h2M220 285.5h1M282 285.5h1M284 285.5h1M409 285.5h1M436 285.5h2M535 285.5h1M568 285.5h2M152 286.5h1M193 286.5h3M220 286.5h1M245 286.5h8M281 286.5h1M285 286.5h1M351 286.5h1M373 286.5h1M380 286.5h1M410 286.5h2M434 286.5h2M535 286.5h1M566 286.5h2M151 287.5h3M191 287.5h2M219 287.5h1M251 287.5h1M281 287.5h1M285 287.5h1M350 287.5h1M374 287.5h1M379 287.5h1M412 287.5h1M432 287.5h2M536 287.5h1M565 287.5h1M154 288.5h4M192 288.5h1M219 288.5h1M251 288.5h1M280 288.5h1M286 288.5h1M313 288.5h1M349 288.5h1M375 288.5h1M379 288.5h1M413 288.5h1M534 288.5h4M566 288.5h2M193 289.5h2M218 289.5h7M250 289.5h1M312 289.5h1M314 289.5h1M348 289.5h1M375 289.5h1M378 289.5h1M469 289.5h1M501 289.5h1M530 289.5h4M568 289.5h2M195 290.5h1M250 290.5h1M311 290.5h1M314 290.5h1M347 290.5h2M376 290.5h1M378 290.5h1M470 290.5h2M499 290.5h3M570 290.5h1M196 291.5h1M249 291.5h1M311 291.5h1M315 291.5h1M349 291.5h3M377 291.5h1M472 291.5h2M497 291.5h2M501 291.5h1M310 292.5h1M315 292.5h1M352 292.5h2M474 292.5h1M496 292.5h1M501 292.5h1M309 293.5h1M316 293.5h1M472 293.5h2M501 293.5h1M470 294.5h2M501 294.5h1M469 295.5h1M501 295.5h1M569 315.5h1M154 316.5h1M569 316.5h1M155 317.5h1M183 317.5h1M406 317.5h1M569 317.5h1M156 318.5h2M183 318.5h1M189 318.5h1M287 318.5h1M407 318.5h1M563 318.5h1M569 318.5h1M156 319.5h3M184 319.5h1M188 319.5h1M214 319.5h1M286 319.5h1M408 319.5h2M480 319.5h1M505 319.5h1M564 319.5h2M568 319.5h1M158 320.5h2M184 320.5h1M187 320.5h1M215 320.5h1M284 320.5h2M410 320.5h1M478 320.5h2M505 320.5h1M566 320.5h3M157 321.5h2M185 321.5h2M216 321.5h1M283 321.5h1M410 321.5h2M476 321.5h3M505 321.5h1M568 321.5h1M155 322.5h2M185 322.5h1M216 322.5h1M282 322.5h2M374 322.5h1M380 322.5h1M407 322.5h3M475 322.5h2M499 322.5h1M505 322.5h1M535 322.5h1M154 323.5h1M217 323.5h1M284 323.5h3M341 323.5h1M348 323.5h1M375 323.5h1M379 323.5h1M405 323.5h2M440 323.5h1M476 323.5h2M500 323.5h2M505 323.5h1M535 323.5h3M211 324.5h8M253 324.5h1M287 324.5h2M342 324.5h1M347 324.5h1M375 324.5h1M379 324.5h1M440 324.5h3M478 324.5h2M502 324.5h2M505 324.5h1M535 324.5h1M538 324.5h2M251 325.5h2M342 325.5h1M346 325.5h1M376 325.5h1M378 325.5h1M440 325.5h1M443 325.5h2M480 325.5h1M504 325.5h2M535 325.5h1M540 325.5h1M249 326.5h3M309 326.5h1M343 326.5h1M346 326.5h1M376 326.5h1M378 326.5h1M440 326.5h1M445 326.5h2M535 326.5h1M248 327.5h2M310 327.5h1M343 327.5h1M345 327.5h1M377 327.5h1M440 327.5h1M535 327.5h1M249 328.5h2M311 328.5h2M344 328.5h1M440 328.5h1M535 328.5h1M251 329.5h2M313 329.5h1M253 330.5h1M314 330.5h1M312 331.5h2M310 332.5h2M309 333.5h1M443 350.5h1M443 351.5h1M442 352.5h1M405 353.5h1M442 353.5h1M153 354.5h1M375 354.5h1M406 354.5h2M442 354.5h1M447 354.5h2M569 354.5h1M154 355.5h1M249 355.5h1M375 355.5h1M408 355.5h2M441 355.5h1M443 355.5h4M568 355.5h1M155 356.5h2M185 356.5h1M249 356.5h1M344 356.5h1M375 356.5h1M410 356.5h2M441 356.5h2M507 356.5h1M567 356.5h1M157 357.5h1M186 357.5h2M249 357.5h1M344 357.5h1M376 357.5h1M409 357.5h2M505 357.5h2M543 357.5h1M567 357.5h1M157 358.5h2M188 358.5h2M250 358.5h1M344 358.5h1M370 358.5h3M376 358.5h1M407 358.5h2M475 358.5h2M503 358.5h3M541 358.5h2M566 358.5h1M154 359.5h3M190 359.5h2M244 359.5h2M250 359.5h1M278 359.5h2M345 359.5h1M373 359.5h4M406 359.5h1M475 359.5h1M477 359.5h3M502 359.5h2M539 359.5h2M565 359.5h3M152 360.5h2M190 360.5h1M246 360.5h3M250 360.5h1M280 360.5h2M309 360.5h1M339 360.5h3M345 360.5h1M475 360.5h1M480 360.5h2M503 360.5h2M538 360.5h1M568 360.5h4M188 361.5h2M249 361.5h2M282 361.5h2M310 361.5h2M342 361.5h4M476 361.5h1M505 361.5h2M539 361.5h2M187 362.5h1M211 362.5h7M282 362.5h1M312 362.5h2M476 362.5h1M507 362.5h1M541 362.5h2M186 363.5h1M216 363.5h1M280 363.5h2M314 363.5h2M476 363.5h1M543 363.5h1M216 364.5h1M279 364.5h1M313 364.5h2M476 364.5h1M215 365.5h1M278 365.5h1M311 365.5h2M215 366.5h1M310 366.5h1M214 367.5h1M407 387.5h1M442 387.5h1M503 387.5h1M160 388.5h1M407 388.5h1M436 388.5h1M442 388.5h1M504 388.5h1M530 388.5h1M537 388.5h1M158 389.5h2M346 389.5h1M407 389.5h1M437 389.5h1M441 389.5h1M505 389.5h2M531 389.5h1M536 389.5h1M155 390.5h3M346 390.5h1M407 390.5h1M438 390.5h1M441 390.5h1M507 390.5h1M532 390.5h1M536 390.5h1M154 391.5h2M346 391.5h1M406 391.5h1M411 391.5h2M439 391.5h2M507 391.5h2M532 391.5h1M535 391.5h1M155 392.5h2M223 392.5h1M346 392.5h1M406 392.5h1M408 392.5h3M440 392.5h1M504 392.5h3M533 392.5h1M535 392.5h1M157 393.5h2M222 393.5h1M318 393.5h1M345 393.5h1M350 393.5h2M376 393.5h7M406 393.5h2M502 393.5h2M534 393.5h1M569 393.5h2M159 394.5h1M190 394.5h2M220 394.5h2M317 394.5h1M345 394.5h1M347 394.5h3M377 394.5h1M566 394.5h3M187 395.5h3M219 395.5h1M249 395.5h2M316 395.5h1M345 395.5h2M377 395.5h1M564 395.5h2M185 396.5h2M218 396.5h2M249 396.5h1M251 396.5h3M315 396.5h1M378 396.5h1M565 396.5h1M186 397.5h1M220 397.5h2M249 397.5h1M254 397.5h2M282 397.5h1M314 397.5h2M378 397.5h1M469 397.5h7M566 397.5h2M187 398.5h1M222 398.5h2M250 398.5h1M282 398.5h3M316 398.5h3M379 398.5h1M469 398.5h1M568 398.5h1M188 399.5h1M250 399.5h1M282 399.5h1M285 399.5h2M319 399.5h2M379 399.5h1M470 399.5h1M569 399.5h1M189 400.5h1M250 400.5h1M282 400.5h1M287 400.5h2M470 400.5h1M250 401.5h1M282 401.5h1M471 401.5h1M282 402.5h1M471 402.5h1M282 403.5h1M536 421.5h1M536 422.5h1M382 423.5h1M536 423.5h1M542 423.5h1M310 424.5h1M381 424.5h1M537 424.5h1M541 424.5h1M311 425.5h1M379 425.5h2M537 425.5h1M539 425.5h2M312 426.5h2M378 426.5h1M505 426.5h1M537 426.5h2M314 427.5h1M377 427.5h1M504 427.5h1M537 427.5h1M314 428.5h2M378 428.5h2M414 428.5h1M444 428.5h1M504 428.5h1M218 429.5h1M286 429.5h1M311 429.5h3M346 429.5h7M380 429.5h2M412 429.5h2M442 429.5h3M503 429.5h1M181 430.5h7M218 430.5h2M284 430.5h2M309 430.5h2M346 430.5h1M382 430.5h2M410 430.5h2M440 430.5h2M444 430.5h1M468 430.5h2M503 430.5h1M562 430.5h7M185 431.5h2M217 431.5h1M220 431.5h1M282 431.5h3M347 431.5h1M409 431.5h1M439 431.5h1M445 431.5h1M470 431.5h3M502 431.5h7M563 431.5h1M154 432.5h1M186 432.5h1M217 432.5h1M221 432.5h1M249 432.5h7M281 432.5h2M347 432.5h1M410 432.5h2M445 432.5h1M473 432.5h2M563 432.5h1M154 433.5h3M185 433.5h1M216 433.5h1M222 433.5h1M250 433.5h1M282 433.5h2M348 433.5h1M412 433.5h2M445 433.5h1M473 433.5h1M564 433.5h1M154 434.5h1M157 434.5h2M185 434.5h1M216 434.5h1M250 434.5h1M284 434.5h2M348 434.5h1M414 434.5h1M445 434.5h1M471 434.5h2M564 434.5h1M154 435.5h1M159 435.5h2M184 435.5h1M251 435.5h1M286 435.5h1M470 435.5h1M565 435.5h1M154 436.5h1M251 436.5h1M469 436.5h1M154 437.5h1M252 437.5h1M154 438.5h1M566 458.5h1M565 459.5h1M503 460.5h1M565 460.5h1M504 461.5h2M564 461.5h1M473 462.5h7M506 462.5h2M564 462.5h1M473 463.5h1M508 463.5h1M536 463.5h1M563 463.5h7M220 464.5h1M314 464.5h7M376 464.5h7M441 464.5h2M474 464.5h1M506 464.5h2M536 464.5h3M218 465.5h2M253 465.5h2M314 465.5h1M345 465.5h2M377 465.5h1M441 465.5h1M443 465.5h3M474 465.5h1M504 465.5h2M536 465.5h1M539 465.5h2M184 466.5h3M216 466.5h2M249 466.5h4M315 466.5h1M345 466.5h1M347 466.5h3M377 466.5h1M441 466.5h1M446 466.5h2M475 466.5h1M503 466.5h1M536 466.5h1M541 466.5h1M180 467.5h4M215 467.5h3M248 467.5h4M315 467.5h1M345 467.5h1M350 467.5h2M378 467.5h1M408 467.5h2M442 467.5h1M475 467.5h1M535 467.5h1M181 468.5h3M216 468.5h2M249 468.5h1M283 468.5h1M316 468.5h1M346 468.5h1M378 468.5h1M408 468.5h1M410 468.5h3M442 468.5h1M535 468.5h1M182 469.5h1M218 469.5h2M250 469.5h1M283 469.5h3M316 469.5h1M346 469.5h1M379 469.5h1M408 469.5h1M413 469.5h2M442 469.5h1M535 469.5h1M183 470.5h1M220 470.5h1M251 470.5h1M283 470.5h1M286 470.5h2M346 470.5h1M408 470.5h1M442 470.5h1M184 471.5h1M252 471.5h1M283 471.5h1M288 471.5h1M346 471.5h1M408 471.5h1M282 472.5h1M408 472.5h1M282 473.5h1M282 474.5h1M482 488.5h1M482 489.5h3M482 490.5h2M485 490.5h2M483 491.5h2M487 491.5h2M507 491.5h1M483 492.5h1M485 492.5h1M507 492.5h1M483 493.5h1M486 493.5h1M507 493.5h1M483 494.5h1M486 494.5h1M507 494.5h1M569 494.5h1M375 495.5h1M487 495.5h1M501 495.5h2M507 495.5h1M570 495.5h1M376 496.5h1M438 496.5h2M471 496.5h3M488 496.5h1M503 496.5h3M507 496.5h1M570 496.5h1M376 497.5h1M435 497.5h3M439 497.5h1M467 497.5h4M488 497.5h1M506 497.5h2M571 497.5h1M245 498.5h2M377 498.5h1M433 498.5h2M439 498.5h1M468 498.5h4M489 498.5h1M571 498.5h1M242 499.5h3M377 499.5h1M406 499.5h2M439 499.5h1M469 499.5h1M472 499.5h2M490 499.5h1M572 499.5h1M240 500.5h3M282 500.5h2M344 500.5h7M372 500.5h7M406 500.5h1M408 500.5h3M438 500.5h1M469 500.5h1M490 500.5h1M565 500.5h8M241 501.5h1M243 501.5h5M280 501.5h2M344 501.5h4M406 501.5h1M411 501.5h2M438 501.5h1M470 501.5h1M491 501.5h1M242 502.5h1M248 502.5h3M278 502.5h2M312 502.5h7M345 502.5h1M407 502.5h1M438 502.5h1M492 502.5h1M530 502.5h7M243 503.5h1M279 503.5h4M313 503.5h1M315 503.5h1M345 503.5h1M407 503.5h1M493 503.5h1M531 503.5h1M244 504.5h1M280 504.5h1M313 504.5h1M346 504.5h1M407 504.5h1M493 504.5h1M531 504.5h1M281 505.5h1M314 505.5h1M346 505.5h1M407 505.5h1M494 505.5h1M532 505.5h1M282 506.5h1M314 506.5h1M495 506.5h1M532 506.5h1M315 507.5h1M495 507.5h1M533 507.5h1M496 508.5h1M497 509.5h1M498 510.5h1M498 511.5h1M499 512.5h1M500 513.5h1M500 514.5h1M501 515.5h1M502 516.5h1M502 517.5h1M503 518.5h1M504 519.5h1M505 520.5h1M505 521.5h1M506 522.5h1M507 523.5h1M507 524.5h1M526 524.5h7M508 525.5h1M526 525.5h3M466 526.5h7M509 526.5h1M527 526.5h1M529 526.5h1M466 527.5h3M510 527.5h1M527 527.5h1M530 527.5h1M337 528.5h8M467 528.5h1M469 528.5h1M510 528.5h1M527 528.5h1M531 528.5h2M338 529.5h2M372 529.5h3M467 529.5h1M470 529.5h1M504 529.5h3M511 529.5h1M528 529.5h1M533 529.5h1M307 530.5h7M338 530.5h1M340 530.5h2M372 530.5h2M375 530.5h4M404 530.5h3M468 530.5h1M471 530.5h2M500 530.5h4M512 530.5h1M528 530.5h1M534 530.5h2M308 531.5h2M339 531.5h1M342 531.5h2M372 531.5h1M374 531.5h2M404 531.5h7M468 531.5h1M473 531.5h1M501 531.5h5M512 531.5h1M536 531.5h1M308 532.5h1M310 532.5h2M339 532.5h1M344 532.5h1M373 532.5h1M376 532.5h1M405 532.5h1M407 532.5h2M436 532.5h2M502 532.5h1M506 532.5h2M513 532.5h1M558 532.5h7M309 533.5h1M312 533.5h2M340 533.5h1M373 533.5h1M405 533.5h1M409 533.5h1M436 533.5h5M502 533.5h1M514 533.5h1M559 533.5h1M309 534.5h1M340 534.5h1M373 534.5h1M406 534.5h1M436 534.5h1M438 534.5h1M441 534.5h2M503 534.5h1M514 534.5h1M559 534.5h1M310 535.5h1M406 535.5h1M437 535.5h1M439 535.5h1M504 535.5h1M515 535.5h1M560 535.5h1M437 536.5h1M440 536.5h1M516 536.5h1M560 536.5h1M378 537.5h3M437 537.5h1M441 537.5h1M495 537.5h7M517 537.5h1M561 537.5h1M378 538.5h2M381 538.5h4M430 538.5h8M496 538.5h2M517 538.5h1M561 538.5h1M378 539.5h1M380 539.5h1M431 539.5h2M466 539.5h3M496 539.5h1M498 539.5h2M518 539.5h1M302 540.5h3M379 540.5h1M381 540.5h1M421 540.5h2M431 540.5h1M433 540.5h2M466 540.5h7M497 540.5h1M500 540.5h2M519 540.5h1M302 541.5h2M305 541.5h4M379 541.5h1M382 541.5h1M421 541.5h5M432 541.5h1M435 541.5h2M467 541.5h1M469 541.5h1M497 541.5h1M502 541.5h2M519 541.5h1M542 541.5h3M303 542.5h2M313 542.5h3M349 542.5h3M379 542.5h1M383 542.5h2M421 542.5h1M423 542.5h1M426 542.5h2M432 542.5h1M437 542.5h2M467 542.5h1M470 542.5h1M498 542.5h1M504 542.5h2M520 542.5h1M542 542.5h2M545 542.5h4M303 543.5h1M305 543.5h2M313 543.5h7M349 543.5h2M352 543.5h4M379 543.5h1M385 543.5h1M422 543.5h1M424 543.5h1M433 543.5h1M439 543.5h2M467 543.5h1M471 543.5h2M506 543.5h2M521 543.5h1M543 543.5h2M304 544.5h1M307 544.5h1M314 544.5h1M316 544.5h1M350 544.5h2M386 544.5h1M422 544.5h1M425 544.5h1M441 544.5h2M468 544.5h1M473 544.5h1M508 544.5h1M522 544.5h1M543 544.5h1M545 544.5h1M304 545.5h1M308 545.5h1M314 545.5h1M317 545.5h1M350 545.5h1M352 545.5h1M387 545.5h1M422 545.5h1M425 545.5h1M443 545.5h1M468 545.5h1M474 545.5h2M509 545.5h2M522 545.5h1M543 545.5h1M546 545.5h2M309 546.5h1M315 546.5h1M318 546.5h2M350 546.5h1M353 546.5h2M388 546.5h1M422 546.5h1M426 546.5h1M444 546.5h2M476 546.5h1M511 546.5h2M523 546.5h1M544 546.5h1M548 546.5h1M310 547.5h1M315 547.5h1M320 547.5h1M351 547.5h1M355 547.5h1M389 547.5h1M427 547.5h1M446 547.5h2M477 547.5h2M513 547.5h2M524 547.5h1M544 547.5h1M549 547.5h1M311 548.5h2M321 548.5h2M351 548.5h1M356 548.5h1M390 548.5h1M428 548.5h1M448 548.5h2M479 548.5h1M515 548.5h2M524 548.5h1M550 548.5h1M313 549.5h1M323 549.5h1M357 549.5h1M391 549.5h1M429 549.5h1M450 549.5h2M480 549.5h1M517 549.5h2M525 549.5h1M551 549.5h1M314 550.5h1M324 550.5h1M358 550.5h1M363 550.5h2M392 550.5h1M430 550.5h1M452 550.5h2M472 550.5h3M481 550.5h2M519 550.5h2M526 550.5h1M552 550.5h1M315 551.5h1M325 551.5h2M359 551.5h1M363 551.5h5M393 551.5h2M431 551.5h4M454 551.5h2M473 551.5h6M483 551.5h1M521 551.5h2M527 551.5h1M553 551.5h1M316 552.5h1M327 552.5h1M360 552.5h1M363 552.5h2M368 552.5h2M395 552.5h1M432 552.5h7M456 552.5h2M473 552.5h1M475 552.5h1M484 552.5h2M523 552.5h1M527 552.5h1M554 552.5h2M317 553.5h2M328 553.5h1M361 553.5h1M364 553.5h2M396 553.5h1M422 553.5h2M432 553.5h2M435 553.5h1M458 553.5h1M474 553.5h1M476 553.5h1M486 553.5h1M524 553.5h2M528 553.5h1M556 553.5h1M319 554.5h1M329 554.5h2M362 554.5h3M366 554.5h1M397 554.5h1M422 554.5h5M433 554.5h1M436 554.5h1M459 554.5h2M474 554.5h1M477 554.5h2M487 554.5h2M526 554.5h2M529 554.5h1M557 554.5h1M320 555.5h1M331 555.5h1M364 555.5h1M367 555.5h1M398 555.5h1M423 555.5h2M427 555.5h2M433 555.5h2M437 555.5h2M461 555.5h2M475 555.5h1M479 555.5h1M489 555.5h1M528 555.5h2M558 555.5h1M321 556.5h1M332 556.5h2M355 556.5h3M365 556.5h1M367 556.5h1M399 556.5h1M423 556.5h1M425 556.5h1M434 556.5h2M439 556.5h1M463 556.5h2M480 556.5h2M490 556.5h1M530 556.5h2M559 556.5h1M322 557.5h1M334 557.5h1M356 557.5h6M366 557.5h1M368 557.5h1M400 557.5h1M423 557.5h1M426 557.5h1M434 557.5h1M436 557.5h1M440 557.5h1M465 557.5h2M482 557.5h1M491 557.5h2M531 557.5h3M560 557.5h1M323 558.5h2M335 558.5h1M356 558.5h1M358 558.5h2M367 558.5h1M369 558.5h1M401 558.5h1M424 558.5h1M427 558.5h1M437 558.5h1M441 558.5h2M467 558.5h2M483 558.5h2M493 558.5h1M531 558.5h1M534 558.5h2M561 558.5h1M325 559.5h1M336 559.5h2M357 559.5h1M360 559.5h2M368 559.5h1M370 559.5h1M392 559.5h3M402 559.5h1M424 559.5h1M428 559.5h1M438 559.5h1M443 559.5h1M469 559.5h2M485 559.5h1M494 559.5h2M532 559.5h1M536 559.5h1M562 559.5h2M326 560.5h1M338 560.5h1M357 560.5h1M362 560.5h1M369 560.5h2M393 560.5h6M403 560.5h2M429 560.5h1M439 560.5h1M444 560.5h1M471 560.5h1M486 560.5h1M496 560.5h1M533 560.5h1M564 560.5h1M327 561.5h1M339 561.5h2M358 561.5h1M363 561.5h2M370 561.5h2M393 561.5h1M395 561.5h2M405 561.5h1M430 561.5h1M439 561.5h1M445 561.5h2M487 561.5h2M497 561.5h2M534 561.5h1M565 561.5h1M328 562.5h1M341 562.5h1M365 562.5h2M371 562.5h2M394 562.5h1M397 562.5h2M406 562.5h1M431 562.5h1M440 562.5h1M447 562.5h1M489 562.5h1M499 562.5h1M534 562.5h1M566 562.5h1M329 563.5h2M342 563.5h1M367 563.5h2M372 563.5h2M394 563.5h1M399 563.5h1M407 563.5h1M432 563.5h1M441 563.5h1M448 563.5h1M490 563.5h2M500 563.5h1M535 563.5h1M567 563.5h1M331 564.5h1M343 564.5h2M369 564.5h1M373 564.5h2M395 564.5h1M400 564.5h2M408 564.5h1M433 564.5h1M442 564.5h1M449 564.5h2M492 564.5h1M501 564.5h2M536 564.5h1M332 565.5h1M345 565.5h1M370 565.5h2M374 565.5h2M402 565.5h2M409 565.5h1M434 565.5h1M451 565.5h1M493 565.5h2M503 565.5h1M536 565.5h1M333 566.5h1M372 566.5h2M375 566.5h2M404 566.5h2M435 566.5h1M452 566.5h1M495 566.5h1M504 566.5h2M537 566.5h1M334 567.5h1M374 567.5h2M406 567.5h1M436 567.5h1M453 567.5h2M496 567.5h1M506 567.5h1M538 567.5h1M335 568.5h2M376 568.5h2M407 568.5h2M437 568.5h1M455 568.5h1M497 568.5h2M539 568.5h1M337 569.5h1M377 569.5h2M409 569.5h2M438 569.5h1M456 569.5h2M499 569.5h1M539 569.5h1M338 570.5h1M378 570.5h3M411 570.5h2M439 570.5h1M458 570.5h1M500 570.5h2M540 570.5h1M339 571.5h1M378 571.5h1M381 571.5h2M413 571.5h1M440 571.5h1M459 571.5h1M502 571.5h1M541 571.5h1M340 572.5h1M379 572.5h1M383 572.5h2M414 572.5h2M441 572.5h1M460 572.5h2M503 572.5h1M541 572.5h1M341 573.5h2M380 573.5h1M385 573.5h1M416 573.5h2M442 573.5h1M462 573.5h1M504 573.5h2M542 573.5h1M343 574.5h1M381 574.5h1M386 574.5h2M418 574.5h2M443 574.5h1M463 574.5h1M506 574.5h1M543 574.5h1M344 575.5h1M381 575.5h1M388 575.5h2M420 575.5h1M444 575.5h1M464 575.5h2M507 575.5h2M543 575.5h1M345 576.5h1M382 576.5h1M390 576.5h2M421 576.5h2M445 576.5h1M466 576.5h1M509 576.5h1M544 576.5h1M346 577.5h1M383 577.5h1M392 577.5h1M423 577.5h2M446 577.5h1M467 577.5h1M510 577.5h2M545 577.5h1M347 578.5h2M383 578.5h1M393 578.5h2M425 578.5h1M447 578.5h1M468 578.5h2M512 578.5h1M546 578.5h1M349 579.5h1M384 579.5h1M395 579.5h2M426 579.5h2M448 579.5h1M470 579.5h1M513 579.5h1M546 579.5h1M350 580.5h1M385 580.5h1M397 580.5h2M428 580.5h2M449 580.5h1M471 580.5h1M514 580.5h2M547 580.5h1M351 581.5h1M386 581.5h1M399 581.5h1M430 581.5h2M450 581.5h1M472 581.5h2M516 581.5h1M548 581.5h1M352 582.5h1M386 582.5h1M400 582.5h2M432 582.5h1M451 582.5h1M474 582.5h1M517 582.5h2M548 582.5h1M353 583.5h2M387 583.5h1M402 583.5h2M433 583.5h2M452 583.5h1M475 583.5h1M519 583.5h1M549 583.5h1M355 584.5h1M388 584.5h1M404 584.5h2M435 584.5h2M453 584.5h1M476 584.5h2M520 584.5h1M550 584.5h1M356 585.5h1M389 585.5h1M406 585.5h1M437 585.5h2M454 585.5h1M478 585.5h1M521 585.5h2M551 585.5h1M357 586.5h1M389 586.5h1M407 586.5h2M439 586.5h1M455 586.5h1M479 586.5h2M523 586.5h1M551 586.5h1M358 587.5h1M390 587.5h1M409 587.5h2M440 587.5h2M456 587.5h1M481 587.5h1M524 587.5h2M552 587.5h1M359 588.5h2M391 588.5h1M411 588.5h2M442 588.5h2M457 588.5h1M482 588.5h1M526 588.5h1M553 588.5h1M361 589.5h1M391 589.5h1M413 589.5h1M444 589.5h2M458 589.5h1M483 589.5h2M527 589.5h2M553 589.5h1M362 590.5h1M392 590.5h1M414 590.5h2M446 590.5h1M459 590.5h1M485 590.5h1M529 590.5h1M554 590.5h1M363 591.5h1M393 591.5h1M416 591.5h2M447 591.5h2M460 591.5h1M486 591.5h1M530 591.5h1M555 591.5h1M364 592.5h1M394 592.5h1M418 592.5h2M449 592.5h2M461 592.5h1M487 592.5h2M531 592.5h2M555 592.5h1M365 593.5h2M394 593.5h1M420 593.5h2M451 593.5h2M462 593.5h1M489 593.5h1M533 593.5h1M556 593.5h1M367 594.5h1M395 594.5h1M422 594.5h1M453 594.5h1M463 594.5h1M490 594.5h1M534 594.5h2M557 594.5h1M368 595.5h1M396 595.5h1M423 595.5h2M454 595.5h2M464 595.5h1M491 595.5h2M536 595.5h1M558 595.5h1M369 596.5h1M397 596.5h1M425 596.5h2M456 596.5h2M465 596.5h1M493 596.5h1M537 596.5h2M558 596.5h1M370 597.5h1M397 597.5h1M427 597.5h2M458 597.5h2M466 597.5h1M494 597.5h1M539 597.5h1M559 597.5h1M371 598.5h2M398 598.5h1M429 598.5h1M460 598.5h1M467 598.5h1M495 598.5h2M540 598.5h1M560 598.5h1M373 599.5h1M399 599.5h1M430 599.5h2M461 599.5h2M468 599.5h1M497 599.5h1M541 599.5h2M560 599.5h1M374 600.5h1M400 600.5h1M432 600.5h2M463 600.5h2M469 600.5h1M498 600.5h1M543 600.5h1M561 600.5h1M375 601.5h1M400 601.5h1M434 601.5h2M465 601.5h2M470 601.5h1M499 601.5h2M562 601.5h1M401 602.5h1M436 602.5h1M467 602.5h1M471 602.5h1M501 602.5h1M563 602.5h1M402 603.5h1M468 603.5h2M472 603.5h1M563 603.5h1M402 604.5h1M470 604.5h2M473 604.5h1M564 604.5h1M403 605.5h1M472 605.5h2M565 605.5h1M404 606.5h1M474 606.5h1M565 606.5h1M405 607.5h1M475 607.5h2M566 607.5h1M405 608.5h1M477 608.5h2M567 608.5h1M406 609.5h1M479 609.5h1M567 609.5h1M407 610.5h1M480 610.5h2M568 610.5h1M408 611.5h1M482 611.5h2M569 611.5h1M408 612.5h1M484 612.5h2M570 612.5h1M409 613.5h1M486 613.5h1M570 613.5h1M487 614.5h2M571 614.5h1M489 615.5h2M491 616.5h2M493 617.5h1M494 618.5h2M496 619.5h2M498 620.5h2M500 621.5h1M501 622.5h2M503 623.5h2M505 624.5h2M507 625.5h1M251 660.5h10M264 660.5h8M278 660.5h8M291 660.5h8M338 660.5h10M353 660.5h4M368 660.5h1M383 660.5h1M251 661.5h1M264 661.5h1M278 661.5h1M291 661.5h1M303 661.5h1M310 661.5h1M317 661.5h1M338 661.5h1M351 661.5h2M357 661.5h2M367 661.5h2M382 661.5h2M389 661.5h1M396 661.5h1M403 661.5h1M251 662.5h1M264 662.5h1M278 662.5h1M291 662.5h1M303 662.5h1M310 662.5h1M317 662.5h1M338 662.5h1M350 662.5h1M358 662.5h1M366 662.5h1M368 662.5h1M382 662.5h2M389 662.5h1M396 662.5h1M403 662.5h1M251 663.5h1M264 663.5h1M278 663.5h1M291 663.5h1M303 663.5h1M309 663.5h2M316 663.5h1M338 663.5h1M350 663.5h1M358 663.5h1M365 663.5h1M368 663.5h1M381 663.5h1M383 663.5h1M390 663.5h1M396 663.5h2M403 663.5h1M251 664.5h1M263 664.5h1M277 664.5h1M290 664.5h1M304 664.5h1M309 664.5h1M311 664.5h1M316 664.5h1M338 664.5h1M350 664.5h1M358 664.5h1M368 664.5h1M380 664.5h1M383 664.5h1M390 664.5h1M395 664.5h1M397 664.5h1M402 664.5h1M251 665.5h1M263 665.5h1M266 665.5h3M277 665.5h1M280 665.5h3M290 665.5h1M293 665.5h3M304 665.5h1M309 665.5h1M311 665.5h1M316 665.5h1M338 665.5h1M351 665.5h1M358 665.5h1M368 665.5h1M380 665.5h1M383 665.5h1M390 665.5h1M395 665.5h1M397 665.5h1M402 665.5h1M251 666.5h1M263 666.5h3M269 666.5h2M277 666.5h3M283 666.5h2M290 666.5h3M296 666.5h2M304 666.5h1M308 666.5h1M311 666.5h1M315 666.5h1M338 666.5h1M352 666.5h6M368 666.5h1M379 666.5h1M383 666.5h1M391 666.5h1M395 666.5h1M398 666.5h1M402 666.5h1M251 667.5h7M271 667.5h2M285 667.5h1M298 667.5h2M304 667.5h1M308 667.5h1M311 667.5h1M315 667.5h1M338 667.5h6M351 667.5h2M356 667.5h2M368 667.5h1M378 667.5h1M383 667.5h1M391 667.5h1M395 667.5h1M398 667.5h1M402 667.5h1M251 668.5h1M272 668.5h1M286 668.5h1M300 668.5h1M305 668.5h1M308 668.5h1M312 668.5h1M315 668.5h1M338 668.5h1M351 668.5h1M358 668.5h1M368 668.5h1M377 668.5h1M383 668.5h1M391 668.5h1M394 668.5h1M398 668.5h1M401 668.5h1M251 669.5h1M272 669.5h1M286 669.5h1M300 669.5h1M305 669.5h1M308 669.5h1M312 669.5h1M315 669.5h1M320 669.5h14M338 669.5h1M350 669.5h1M358 669.5h1M368 669.5h1M377 669.5h1M383 669.5h1M391 669.5h1M394 669.5h1M398 669.5h1M401 669.5h1M251 670.5h1M272 670.5h1M286 670.5h1M300 670.5h1M305 670.5h1M307 670.5h1M312 670.5h1M314 670.5h1M338 670.5h1M349 670.5h1M359 670.5h1M368 670.5h1M376 670.5h12M392 670.5h1M394 670.5h1M399 670.5h1M401 670.5h1M251 671.5h1M272 671.5h1M286 671.5h1M300 671.5h1M305 671.5h1M307 671.5h1M312 671.5h1M314 671.5h1M338 671.5h1M349 671.5h1M359 671.5h1M368 671.5h1M383 671.5h1M392 671.5h1M394 671.5h1M399 671.5h1M401 671.5h1M251 672.5h1M263 672.5h1M272 672.5h1M276 672.5h1M286 672.5h1M290 672.5h1M300 672.5h1M306 672.5h2M313 672.5h2M338 672.5h1M349 672.5h1M359 672.5h1M368 672.5h1M383 672.5h1M392 672.5h2M399 672.5h2M251 673.5h1M263 673.5h1M272 673.5h1M277 673.5h1M285 673.5h1M290 673.5h1M299 673.5h1M306 673.5h1M313 673.5h1M338 673.5h1M350 673.5h1M359 673.5h1M368 673.5h1M383 673.5h1M393 673.5h1M400 673.5h1M251 674.5h1M263 674.5h2M270 674.5h2M277 674.5h2M284 674.5h1M290 674.5h2M297 674.5h2M306 674.5h1M313 674.5h1M338 674.5h1M350 674.5h2M358 674.5h1M368 674.5h1M383 674.5h1M393 674.5h1M400 674.5h1M251 675.5h1M265 675.5h5M279 675.5h5M292 675.5h5M338 675.5h1M352 675.5h6M368 675.5h1M383 675.5h1" stroke="#ff0000" stroke-width="1" fill="none"/>
</svg>
<div class="t" style="left:92.2px;letter-spacing:0.6px">HSTPHOT:</div>
<div class="t" style="left:228.8px;letter-spacing:-0.8px">Field</div>
<div class="t" style="left:288.2px;letter-spacing:-0.35px">&#8217;fake</div>
<div class="t" style="left:347.2px;letter-spacing:0.11px">ngc6822_u37h05&#8217;</div>
</body></html>
